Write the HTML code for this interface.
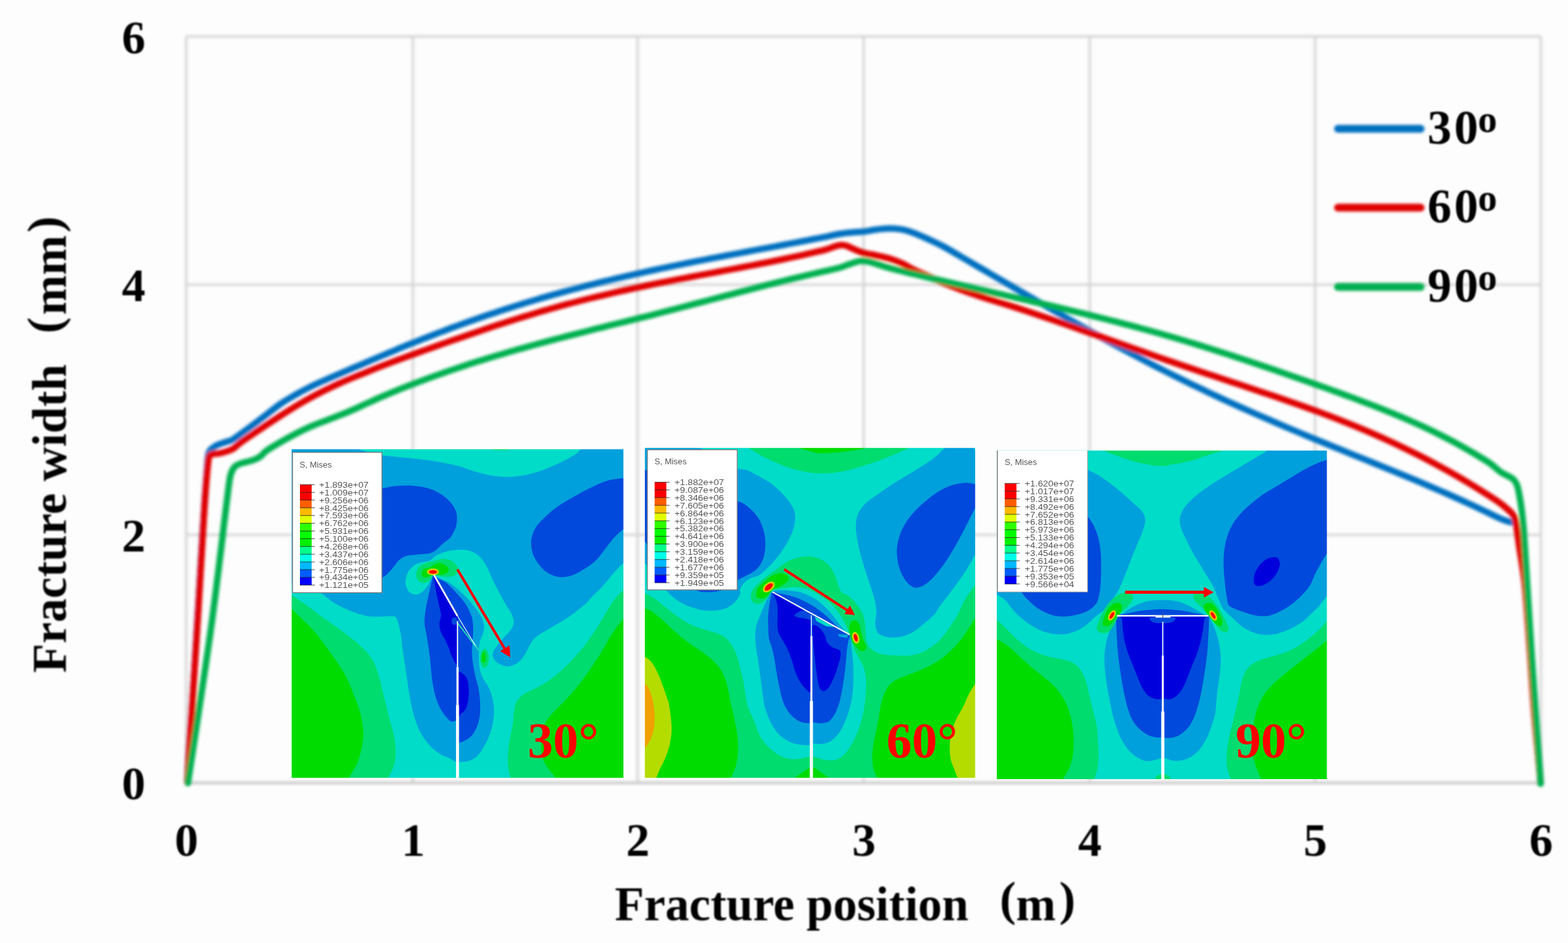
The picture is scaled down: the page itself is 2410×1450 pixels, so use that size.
<!DOCTYPE html>
<html lang="en"><head><meta charset="utf-8"><title>Fracture width vs fracture position</title>
<style>html,body{margin:0;padding:0;background:#fdfdfd;}body{width:2410px;height:1450px;overflow:hidden;}svg{display:block;}.tk{font-family:"Liberation Serif",serif;font-weight:bold;font-size:72.5px;fill:#000;}.pa{font-size:75px;}.ti{font-family:"Liberation Serif",serif;font-weight:bold;font-size:73.5px;fill:#000;}.lg{font-family:"Liberation Serif",serif;font-weight:bold;font-size:74px;fill:#000;}.rl{font-family:"Liberation Serif",serif;font-weight:bold;font-size:78px;fill:#ff0000;}.ab{font-family:"Liberation Sans","DejaVu Sans",sans-serif;font-size:12.9px;fill:#585858;}</style></head><body>
<svg width="2410" height="1450" viewBox="0 0 2410 1450">
<defs><filter id="bl" x="-5%" y="-5%" width="110%" height="110%"><feGaussianBlur stdDeviation="1.7"/></filter><filter id="bl2" x="-5%" y="-5%" width="110%" height="110%"><feGaussianBlur stdDeviation="0.8"/></filter><filter id="blC" filterUnits="userSpaceOnUse" x="250" y="300" width="2160" height="950"><feGaussianBlur stdDeviation="2.0"/></filter><filter id="blG" filterUnits="userSpaceOnUse" x="250" y="20" width="2160" height="1230"><feGaussianBlur stdDeviation="2.0"/></filter><filter id="blT" filterUnits="userSpaceOnUse" x="0" y="0" width="2410" height="1450"><feGaussianBlur stdDeviation="1.2"/></filter><filter id="bl3" filterUnits="userSpaceOnUse" x="400" y="650" width="1700" height="600"><feGaussianBlur stdDeviation="0.75"/></filter><filter id="bl4" filterUnits="userSpaceOnUse" x="400" y="650" width="1700" height="600"><feGaussianBlur stdDeviation="0.45"/></filter><filter id="blL" filterUnits="userSpaceOnUse" x="2000" y="150" width="250" height="350"><feGaussianBlur stdDeviation="1.9"/></filter></defs>
<rect x="0" y="0" width="2410" height="1450" fill="#fdfdfd"/>
<g id="grid" filter="url(#blG)" stroke="#d6d6d6" stroke-width="3.8" fill="none">
<line x1="286.2" y1="56.0" x2="286.2" y2="1203.0"/>
<line x1="634.6" y1="56.0" x2="634.6" y2="1203.0"/>
<line x1="980.0" y1="56.0" x2="980.0" y2="1203.0"/>
<line x1="1327.4" y1="56.0" x2="1327.4" y2="1203.0"/>
<line x1="1674.7" y1="56.0" x2="1674.7" y2="1203.0"/>
<line x1="2021.3" y1="56.0" x2="2021.3" y2="1203.0"/>
<line x1="2368.3" y1="56.0" x2="2368.3" y2="1203.0"/>
<line x1="286.2" y1="56.0" x2="2368.3" y2="56.0"/>
<line x1="286.2" y1="437.6" x2="2368.3" y2="437.6"/>
<line x1="286.2" y1="822.3" x2="2368.3" y2="822.3"/>
<line x1="286.2" y1="1203.8" x2="2368.3" y2="1203.8" stroke="#cbcbcb" stroke-width="4.4"/>
</g>
<g id="curves" filter="url(#blC)" fill="none" stroke-width="10" stroke-linecap="round" stroke-linejoin="round">
<path stroke="#0070c0" d="M288.0,1203.0C290.0,1170.8 296.0,1075.5 300.0,1010.0C304.0,944.5 308.9,859.2 312.0,810.0C315.1,760.8 317.0,734.0 318.5,715.0C320.0,696.0 319.8,700.2 321.0,696.0C322.2,691.8 323.8,691.4 326.0,689.5C328.2,687.6 330.5,686.0 334.0,684.4C337.5,682.8 343.3,681.0 347.0,679.7C350.7,678.5 352.8,678.5 356.0,676.9C359.2,675.3 360.7,673.9 366.0,670.1C371.3,666.3 380.7,659.6 388.0,654.1C395.3,648.6 402.7,642.8 410.0,637.2C417.3,631.6 424.7,625.5 432.0,620.5C439.3,615.5 446.7,611.4 454.0,607.2C461.3,603.0 468.7,599.1 476.0,595.4C483.3,591.7 490.7,588.5 498.0,585.2C505.3,581.9 512.7,578.8 520.0,575.6C527.3,572.4 534.7,569.3 542.0,566.2C549.3,563.1 556.7,560.0 564.0,556.9C571.3,553.8 578.7,550.6 586.0,547.5C593.3,544.4 600.7,541.3 608.0,538.3C615.3,535.2 622.7,532.2 630.0,529.2C637.3,526.2 644.7,523.3 652.0,520.4C659.3,517.5 666.7,514.7 674.0,511.9C681.3,509.1 688.7,506.2 696.0,503.5C703.3,500.8 710.7,498.1 718.0,495.5C725.3,492.9 732.7,490.3 740.0,487.8C747.3,485.3 754.7,482.8 762.0,480.4C769.3,478.0 776.7,475.5 784.0,473.2C791.3,470.9 798.7,468.6 806.0,466.3C813.3,464.1 820.7,461.9 828.0,459.7C835.3,457.5 842.7,455.5 850.0,453.4C857.3,451.3 864.7,449.3 872.0,447.3C879.3,445.3 886.7,443.4 894.0,441.5C901.3,439.6 908.7,437.6 916.0,435.8C923.3,434.0 930.7,432.2 938.0,430.5C945.3,428.8 952.7,427.0 960.0,425.3C967.3,423.6 974.7,421.9 982.0,420.3C989.3,418.7 996.7,417.1 1004.0,415.5C1011.3,413.9 1018.7,412.3 1026.0,410.8C1033.3,409.3 1040.7,407.8 1048.0,406.3C1055.3,404.8 1062.7,403.3 1070.0,401.9C1077.3,400.5 1084.7,399.1 1092.0,397.7C1099.3,396.3 1106.7,394.9 1114.0,393.5C1121.3,392.1 1128.7,390.7 1136.0,389.3C1143.3,387.9 1150.7,386.6 1158.0,385.2C1165.3,383.8 1172.7,382.5 1180.0,381.1C1187.3,379.7 1194.7,378.4 1202.0,377.0C1209.3,375.6 1216.7,374.3 1224.0,372.9C1231.3,371.5 1238.7,370.0 1246.0,368.6C1253.3,367.2 1260.7,365.8 1268.0,364.3C1275.3,362.8 1283.0,361.0 1290.0,359.8C1297.0,358.6 1303.8,358.0 1310.0,357.4C1316.2,356.8 1321.6,356.8 1327.4,356.1C1333.2,355.4 1339.2,354.1 1345.0,353.3C1350.8,352.5 1356.5,351.8 1362.0,351.5C1367.5,351.2 1373.2,351.3 1378.2,351.7C1383.2,352.1 1387.0,352.8 1392.0,354.1C1397.0,355.4 1402.0,357.3 1408.0,359.7C1414.0,362.1 1421.0,365.2 1428.0,368.4C1435.0,371.6 1442.2,374.8 1450.0,379.0C1457.8,383.2 1466.7,388.6 1475.0,393.5C1483.3,398.4 1491.7,403.2 1500.0,408.1C1508.3,413.0 1516.7,417.8 1525.0,422.7C1533.3,427.6 1541.7,432.4 1550.0,437.3C1558.3,442.2 1566.7,447.0 1575.0,451.8C1583.3,456.6 1591.7,461.5 1600.0,466.3C1608.3,471.1 1616.7,475.9 1625.0,480.7C1633.3,485.5 1641.7,490.2 1650.0,494.9C1658.3,499.6 1666.7,504.4 1675.0,509.0C1683.3,513.6 1691.7,518.2 1700.0,522.8C1708.3,527.4 1716.7,531.9 1725.0,536.4C1733.3,540.9 1741.7,545.3 1750.0,549.7C1758.3,554.1 1766.7,558.4 1775.0,562.7C1783.3,567.0 1791.7,571.2 1800.0,575.4C1808.3,579.6 1816.7,583.7 1825.0,587.8C1833.3,591.9 1841.7,595.8 1850.0,599.8C1858.3,603.8 1866.7,607.7 1875.0,611.6C1883.3,615.5 1891.7,619.3 1900.0,623.1C1908.3,626.9 1916.7,630.6 1925.0,634.3C1933.3,638.0 1941.7,641.6 1950.0,645.2C1958.3,648.8 1966.7,652.5 1975.0,656.0C1983.3,659.5 1991.7,663.0 2000.0,666.5C2008.3,670.0 2016.7,673.5 2025.0,676.9C2033.3,680.3 2041.7,683.7 2050.0,687.1C2058.3,690.5 2066.7,693.9 2075.0,697.3C2083.3,700.7 2091.7,704.0 2100.0,707.4C2108.3,710.8 2116.7,714.2 2125.0,717.6C2133.3,721.0 2141.7,724.4 2150.0,727.8C2158.3,731.2 2166.7,734.7 2175.0,738.2C2183.3,741.7 2191.7,745.2 2200.0,748.8C2208.3,752.4 2216.7,756.0 2225.0,759.7C2233.3,763.4 2241.7,767.1 2250.0,770.9C2258.3,774.7 2266.7,778.5 2275.0,782.5C2283.3,786.5 2293.5,791.7 2300.0,794.7C2306.5,797.7 2309.8,799.0 2314.0,800.5C2318.2,802.0 2323.5,803.0 2325.4,803.5"/>
<path stroke="#e00000" d="M288.0,1203.0C290.8,1158.9 300.3,1009.1 304.7,938.6C309.1,868.1 311.7,817.8 314.2,780.0C316.7,742.2 318.3,725.3 319.8,712.0C321.3,698.7 321.6,702.3 323.0,700.0C324.4,697.7 325.5,698.5 328.0,698.0C330.5,697.5 334.1,697.6 338.0,696.8C341.9,696.0 347.6,694.4 351.3,693.1C355.0,691.8 357.2,690.7 360.0,688.8C362.8,686.9 363.0,685.6 368.0,681.9C373.0,678.2 382.7,671.6 390.0,666.6C397.3,661.6 404.7,656.8 412.0,651.9C419.3,647.0 426.7,642.2 434.0,637.5C441.3,632.8 448.7,628.1 456.0,623.7C463.3,619.3 470.7,615.1 478.0,611.1C485.3,607.1 492.7,603.3 500.0,599.7C507.3,596.1 514.7,592.7 522.0,589.4C529.3,586.1 536.7,583.0 544.0,580.0C551.3,577.0 558.7,574.1 566.0,571.1C573.3,568.1 580.7,565.1 588.0,562.3C595.3,559.4 602.7,556.7 610.0,554.0C617.3,551.3 624.7,548.6 632.0,546.0C639.3,543.4 646.7,540.7 654.0,538.1C661.3,535.5 668.7,532.9 676.0,530.3C683.3,527.7 690.7,525.1 698.0,522.5C705.3,519.9 712.7,517.4 720.0,514.9C727.3,512.4 734.7,509.9 742.0,507.4C749.3,504.9 756.7,502.5 764.0,500.1C771.3,497.7 778.7,495.2 786.0,492.9C793.3,490.6 800.7,488.3 808.0,486.1C815.3,483.9 822.7,481.6 830.0,479.5C837.3,477.4 844.7,475.2 852.0,473.2C859.3,471.1 866.7,469.1 874.0,467.2C881.3,465.2 888.7,463.4 896.0,461.5C903.3,459.6 910.7,457.9 918.0,456.1C925.3,454.4 932.7,452.7 940.0,451.0C947.3,449.3 954.7,447.6 962.0,446.0C969.3,444.4 976.7,442.9 984.0,441.3C991.3,439.8 998.7,438.2 1006.0,436.7C1013.3,435.2 1020.7,433.7 1028.0,432.3C1035.3,430.9 1042.7,429.5 1050.0,428.1C1057.3,426.7 1064.7,425.3 1072.0,423.9C1079.3,422.5 1086.7,421.2 1094.0,419.8C1101.3,418.4 1108.7,417.1 1116.0,415.7C1123.3,414.3 1130.7,412.9 1138.0,411.5C1145.3,410.1 1152.7,408.7 1160.0,407.3C1167.3,405.9 1174.7,404.5 1182.0,403.0C1189.3,401.5 1196.7,400.0 1204.0,398.5C1211.3,397.0 1218.7,395.4 1226.0,393.8C1233.3,392.2 1240.7,390.6 1248.0,388.9C1255.3,387.2 1264.0,385.3 1270.0,383.6C1276.0,381.9 1280.1,379.7 1284.0,378.6C1287.9,377.5 1290.4,376.9 1293.2,376.8C1296.0,376.7 1297.9,377.1 1301.0,378.1C1304.1,379.1 1307.8,381.1 1312.0,382.9C1316.2,384.6 1320.8,387.0 1326.3,388.6C1331.8,390.2 1338.1,391.0 1345.0,392.5C1351.9,394.0 1361.0,395.8 1367.8,397.8C1374.6,399.9 1379.8,401.9 1386.0,404.8C1392.2,407.7 1397.7,411.4 1405.0,415.0C1412.3,418.6 1421.7,422.5 1430.0,426.1C1438.3,429.7 1446.7,433.4 1455.0,436.8C1463.3,440.2 1471.7,443.4 1480.0,446.5C1488.3,449.6 1496.7,452.4 1505.0,455.2C1513.3,458.0 1521.7,460.6 1530.0,463.2C1538.3,465.8 1546.7,468.3 1555.0,470.9C1563.3,473.5 1571.7,476.2 1580.0,479.0C1588.3,481.8 1596.7,484.6 1605.0,487.4C1613.3,490.2 1621.7,493.1 1630.0,496.0C1638.3,498.9 1646.7,501.9 1655.0,504.8C1663.3,507.7 1671.7,510.7 1680.0,513.6C1688.3,516.6 1696.7,519.5 1705.0,522.5C1713.3,525.5 1721.7,528.5 1730.0,531.5C1738.3,534.5 1746.7,537.4 1755.0,540.3C1763.3,543.2 1771.7,546.2 1780.0,549.1C1788.3,552.0 1796.7,554.9 1805.0,557.8C1813.3,560.7 1821.7,563.5 1830.0,566.3C1838.3,569.1 1846.7,571.9 1855.0,574.7C1863.3,577.5 1871.7,580.2 1880.0,583.0C1888.3,585.8 1896.7,588.5 1905.0,591.3C1913.3,594.1 1921.7,596.9 1930.0,599.7C1938.3,602.5 1946.7,605.3 1955.0,608.1C1963.3,610.9 1971.7,613.8 1980.0,616.7C1988.3,619.6 1996.7,622.5 2005.0,625.5C2013.3,628.5 2021.7,631.5 2030.0,634.6C2038.3,637.7 2046.7,640.9 2055.0,644.1C2063.3,647.4 2071.7,650.7 2080.0,654.1C2088.3,657.5 2096.7,661.0 2105.0,664.6C2113.3,668.2 2121.7,671.9 2130.0,675.7C2138.3,679.5 2146.7,683.4 2155.0,687.4C2163.3,691.4 2171.7,695.5 2180.0,699.7C2188.3,703.9 2196.7,708.3 2205.0,712.8C2213.3,717.3 2221.7,721.9 2230.0,726.6C2238.3,731.3 2246.7,736.2 2255.0,741.2C2263.3,746.2 2271.7,751.4 2280.0,756.7C2288.3,762.0 2298.0,768.0 2305.0,773.1C2312.0,778.2 2318.2,783.9 2322.0,787.5C2325.8,791.1 2326.1,791.6 2327.5,795.0C2328.9,798.4 2329.2,800.5 2330.5,808.0C2331.8,815.5 2332.8,824.7 2335.0,840.0C2337.2,855.3 2341.1,873.3 2343.8,900.0C2346.5,926.7 2349.0,966.7 2351.4,1000.0C2353.8,1033.3 2355.6,1066.0 2358.4,1100.0C2361.2,1134.0 2366.4,1186.7 2368.0,1204.0"/>
<path stroke="#00b050" d="M288.8,1204.0C294.6,1165.1 313.9,1041.1 323.7,970.4C333.5,899.7 342.6,818.9 347.5,780.0C352.4,741.1 351.5,746.2 353.0,737.0C354.5,727.8 355.2,727.9 356.5,724.6C357.8,721.4 358.8,719.5 361.0,717.5C363.2,715.5 365.4,714.2 370.0,712.6C374.6,711.0 383.6,709.4 388.6,707.6C393.6,705.9 396.4,704.6 400.0,702.1C403.6,699.6 404.7,696.5 410.0,692.7C415.3,688.9 424.7,683.6 432.0,679.4C439.3,675.1 446.7,671.0 454.0,667.2C461.3,663.4 468.7,659.8 476.0,656.6C483.3,653.4 490.7,650.7 498.0,647.8C505.3,644.9 512.7,642.2 520.0,639.3C527.3,636.4 534.7,633.5 542.0,630.3C549.3,627.1 556.7,623.6 564.0,620.3C571.3,617.0 578.7,613.6 586.0,610.4C593.3,607.2 600.7,604.1 608.0,601.1C615.3,598.1 622.7,595.2 630.0,592.4C637.3,589.6 644.7,586.8 652.0,584.1C659.3,581.4 666.7,578.7 674.0,576.1C681.3,573.5 688.7,570.9 696.0,568.4C703.3,565.9 710.7,563.4 718.0,561.0C725.3,558.6 732.7,556.3 740.0,554.0C747.3,551.7 754.7,549.5 762.0,547.3C769.3,545.1 776.7,542.9 784.0,540.8C791.3,538.7 798.7,536.6 806.0,534.6C813.3,532.6 820.7,530.5 828.0,528.5C835.3,526.5 842.7,524.5 850.0,522.6C857.3,520.7 864.7,518.8 872.0,516.9C879.3,515.0 886.7,513.2 894.0,511.3C901.3,509.4 908.7,507.6 916.0,505.7C923.3,503.8 930.7,502.0 938.0,500.2C945.3,498.4 952.7,496.6 960.0,494.8C967.3,493.0 974.7,491.1 982.0,489.3C989.3,487.5 996.7,485.7 1004.0,483.8C1011.3,481.9 1018.7,480.1 1026.0,478.2C1033.3,476.3 1040.7,474.4 1048.0,472.5C1055.3,470.6 1062.7,468.6 1070.0,466.7C1077.3,464.8 1084.7,462.9 1092.0,461.0C1099.3,459.1 1106.7,457.1 1114.0,455.2C1121.3,453.3 1128.7,451.3 1136.0,449.4C1143.3,447.5 1150.7,445.6 1158.0,443.7C1165.3,441.8 1172.7,439.9 1180.0,438.0C1187.3,436.1 1194.7,434.3 1202.0,432.5C1209.3,430.7 1216.7,428.9 1224.0,427.2C1231.3,425.4 1238.7,423.7 1246.0,422.0C1253.3,420.3 1260.7,418.6 1268.0,416.9C1275.3,415.2 1284.0,413.4 1290.0,411.7C1296.0,410.0 1299.7,408.3 1304.0,406.8C1308.3,405.3 1312.7,403.6 1316.0,402.7C1319.3,401.8 1321.3,401.4 1324.0,401.3C1326.7,401.2 1328.5,401.2 1332.0,401.8C1335.5,402.4 1339.5,403.5 1345.0,405.1C1350.5,406.7 1357.5,409.4 1365.0,411.5C1372.5,413.6 1381.7,415.8 1390.0,417.8C1398.3,419.9 1406.7,421.8 1415.0,423.8C1423.3,425.8 1431.7,427.8 1440.0,429.8C1448.3,431.8 1456.7,433.7 1465.0,435.6C1473.3,437.5 1481.7,439.5 1490.0,441.4C1498.3,443.3 1506.7,445.3 1515.0,447.2C1523.3,449.1 1531.7,451.0 1540.0,452.9C1548.3,454.8 1556.7,456.7 1565.0,458.6C1573.3,460.5 1581.7,462.5 1590.0,464.4C1598.3,466.3 1606.7,468.2 1615.0,470.2C1623.3,472.1 1631.7,474.1 1640.0,476.1C1648.3,478.1 1656.7,480.2 1665.0,482.2C1673.3,484.2 1681.7,486.2 1690.0,488.3C1698.3,490.4 1706.7,492.6 1715.0,494.7C1723.3,496.8 1731.7,499.0 1740.0,501.2C1748.3,503.4 1756.7,505.7 1765.0,508.0C1773.3,510.3 1781.7,512.6 1790.0,515.0C1798.3,517.4 1806.7,519.8 1815.0,522.3C1823.3,524.8 1831.7,527.3 1840.0,529.9C1848.3,532.5 1856.7,535.1 1865.0,537.7C1873.3,540.4 1881.7,543.1 1890.0,545.8C1898.3,548.5 1906.7,551.2 1915.0,554.0C1923.3,556.8 1931.7,559.7 1940.0,562.5C1948.3,565.3 1956.7,568.1 1965.0,571.0C1973.3,573.9 1981.7,576.8 1990.0,579.7C1998.3,582.6 2006.7,585.5 2015.0,588.5C2023.3,591.5 2031.7,594.4 2040.0,597.4C2048.3,600.4 2056.7,603.4 2065.0,606.5C2073.3,609.6 2081.7,612.6 2090.0,615.8C2098.3,618.9 2106.7,622.1 2115.0,625.4C2123.3,628.7 2131.7,632.0 2140.0,635.4C2148.3,638.8 2156.7,642.4 2165.0,646.0C2173.3,649.6 2181.7,653.4 2190.0,657.3C2198.3,661.2 2206.7,665.3 2215.0,669.5C2223.3,673.7 2231.7,678.0 2240.0,682.6C2248.3,687.2 2256.7,691.9 2265.0,696.9C2273.3,701.9 2283.2,707.6 2290.0,712.4C2296.8,717.2 2301.5,722.3 2306.0,725.5C2310.5,728.7 2313.7,729.6 2317.0,731.5C2320.3,733.4 2323.6,734.7 2326.0,737.0C2328.4,739.3 2330.0,741.7 2331.5,745.5C2333.0,749.3 2333.8,753.8 2335.0,760.0C2336.2,766.2 2337.4,773.3 2338.6,782.6C2339.8,791.9 2341.2,806.2 2342.0,815.8C2342.8,825.4 2341.4,806.0 2343.6,840.0C2345.8,874.0 2350.9,959.2 2355.0,1020.0C2359.1,1080.8 2365.8,1174.1 2368.0,1204.9"/>
</g>
<g id="imgs">
<clipPath id="c1"><rect x="448.3" y="690.8" width="509.9" height="505.2"/></clipPath>
<g clip-path="url(#c1)" filter="url(#bl3)">
<rect x="443.3" y="685.8" width="519.9" height="515.2" fill="#00a0dc"/>
<path fill="#00dcc8" d="M540.0,680.0C511.9,685.1 546.6,688.2 551.7,690.8C556.8,693.4 564.5,694.2 570.4,695.8C576.3,697.3 580.9,699.0 587.1,700.1C593.3,701.2 599.5,701.5 607.6,702.3C615.7,703.1 626.2,704.1 635.5,705.1C644.8,706.1 654.2,707.1 663.5,708.5C672.8,709.9 683.6,711.9 691.4,713.5C699.1,715.1 704.9,716.5 710.0,718.0C715.1,719.5 714.6,720.3 722.0,722.5C729.4,724.7 743.3,729.2 754.5,731.0C765.7,732.8 777.5,733.7 789.0,733.0C800.5,732.3 811.9,730.0 823.4,726.6C834.9,723.2 847.8,717.4 857.9,712.8C868.0,708.2 878.0,702.7 883.8,699.0C889.5,695.3 889.7,693.9 892.4,690.7C895.1,687.5 928.7,685.1 900.0,680.0C871.3,674.9 780.0,660.0 720.0,660.0C660.0,660.0 568.0,674.9 540.0,680.0Z"/>
<ellipse cx="769" cy="690" rx="17" ry="2.5" fill="#00dc6e"/>
<path fill="#00dcc8" d="M958.3,866.2C953.1,869.5 949.3,874.2 944.1,880.0C938.9,885.8 932.6,894.4 926.9,900.7C921.2,907.0 914.5,913.0 909.7,917.9C904.9,922.8 904.3,924.8 898.2,930.0C892.1,935.2 882.1,943.2 873.1,949.3C864.1,955.4 851.6,962.2 844.1,966.7C836.6,971.2 832.7,973.0 828.4,976.0C824.1,979.0 821.2,981.6 818.5,985.0C815.8,988.4 814.1,992.5 811.9,996.5C809.7,1000.5 807.7,1005.2 805.2,1008.8C802.7,1012.4 800.0,1015.8 797.0,1018.2C794.0,1020.6 790.3,1022.4 787.0,1023.4C783.7,1024.5 780.4,1025.0 777.1,1024.5C773.8,1024.0 770.0,1022.1 767.2,1020.6C764.4,1019.1 762.1,1017.4 760.5,1015.4C758.9,1013.4 757.7,1011.3 757.4,1008.8C757.1,1006.3 757.3,1003.8 758.9,1000.5C760.5,997.2 764.5,992.5 767.2,988.9C770.0,985.3 772.9,981.8 775.4,979.0C777.9,976.2 780.0,974.8 782.1,972.3C784.2,969.8 786.7,967.1 787.9,964.1C789.1,961.1 789.9,957.7 789.5,954.1C789.1,950.5 787.8,947.2 785.4,942.5C783.0,937.8 778.7,931.8 775.4,926.0C772.1,920.2 768.8,914.1 765.5,907.8C762.2,901.4 758.4,893.7 755.6,887.9C752.9,882.1 751.5,877.7 749.0,873.0C746.5,868.3 744.0,863.6 740.7,859.8C737.4,855.9 733.2,852.2 729.1,849.9C725.0,847.5 720.9,846.4 715.9,845.7C710.9,845.0 704.8,845.2 699.3,845.7C693.8,846.2 687.8,847.5 682.8,849.0C677.8,850.5 673.1,852.7 669.5,854.8C665.9,856.9 664.0,860.3 661.2,861.8C658.5,863.3 656.6,863.0 653.0,863.9C649.4,864.8 643.9,864.9 639.7,867.2C635.6,869.6 630.9,873.7 628.1,878.0C625.4,882.3 623.8,888.8 623.2,892.9C622.7,897.0 623.7,899.8 624.8,902.8C625.9,905.8 627.3,909.2 629.8,911.1C632.3,913.0 636.4,914.7 639.7,914.4C643.0,914.1 646.7,911.9 649.7,909.4C652.7,906.9 655.4,903.4 657.9,899.5C660.4,895.6 663.1,889.4 664.6,886.3C666.1,883.2 665.6,880.7 667.0,881.0C668.4,881.3 668.8,885.4 672.8,887.9C676.8,890.4 685.2,892.6 691.0,896.2C696.8,899.8 702.6,905.0 707.6,909.4C712.6,913.8 716.7,918.0 720.8,922.7C724.9,927.4 729.1,932.9 732.4,937.6C735.7,942.3 738.8,946.7 740.7,950.8C742.6,954.9 743.7,958.5 744.0,962.4C744.3,966.3 743.4,969.9 742.3,974.0C741.2,978.1 738.4,981.7 737.4,987.2C736.4,992.7 736.1,1000.7 736.0,1007.2C735.9,1013.8 736.0,1020.7 737.0,1026.5C738.0,1032.3 739.4,1036.8 741.8,1042.0C744.2,1047.2 748.8,1051.9 751.4,1057.4C754.0,1062.9 755.9,1068.7 757.2,1074.8C758.5,1080.9 759.2,1087.7 759.2,1094.1C759.2,1100.5 758.5,1107.0 757.2,1113.4C755.9,1119.8 753.6,1126.9 751.4,1132.7C749.1,1138.5 746.6,1143.4 743.7,1148.2C740.8,1153.0 737.6,1158.2 734.1,1161.7C730.6,1165.2 726.7,1167.8 722.5,1169.4C718.3,1171.0 712.6,1171.1 709.0,1171.4C705.4,1171.7 704.1,1172.4 700.9,1171.4C697.7,1170.4 693.8,1167.3 690.0,1165.5C686.2,1163.7 682.5,1163.2 677.9,1160.3C673.3,1157.4 667.6,1153.8 662.4,1148.3C657.2,1142.8 651.2,1135.4 646.9,1127.6C642.6,1119.8 639.5,1111.2 636.6,1101.7C633.7,1092.2 631.7,1081.6 629.7,1070.7C627.7,1059.8 626.2,1047.7 624.5,1036.2C622.8,1024.7 620.6,1011.2 619.3,1001.7C618.0,992.2 617.8,986.1 616.6,979.0C615.5,971.9 613.8,964.1 612.4,959.1C611.0,954.1 610.4,951.1 608.3,949.2C606.2,947.3 606.4,947.7 600.0,947.5C593.6,947.3 579.6,949.1 570.0,948.0C560.4,946.9 551.6,944.1 542.4,940.7C533.1,937.3 522.9,932.6 514.5,927.7C506.1,922.8 499.4,915.3 492.0,911.5C484.6,907.7 478.7,906.4 470.0,905.0C461.3,903.6 448.3,887.2 440.0,903.0C431.7,918.8 423.3,947.2 420.0,1000.0C416.7,1052.8 373.3,1181.7 420.0,1220.0C466.7,1258.3 606.7,1230.0 700.0,1230.0C793.3,1230.0 932.5,1258.3 980.0,1220.0C1027.5,1181.7 985.8,1060.0 985.0,1000.0C984.2,940.0 979.5,882.3 975.0,860.0C970.5,837.7 963.4,862.9 958.3,866.2Z"/>
<path fill="#00dc6e" d="M440.0,910.0C443.0,860.0 443.0,911.7 448.0,915.0C453.0,918.3 461.9,924.2 470.0,930.0C478.1,935.8 487.5,943.2 496.9,950.0C506.3,956.8 517.0,963.8 526.2,970.7C535.4,977.6 544.6,984.5 552.1,991.4C559.6,998.3 566.1,1004.6 571.0,1012.1C575.9,1019.6 578.2,1026.4 581.4,1036.2C584.6,1046.0 587.1,1059.2 590.0,1070.7C592.9,1082.2 596.0,1095.2 598.6,1105.2C601.2,1115.2 603.9,1122.4 605.5,1131.0C607.1,1139.6 608.1,1149.1 608.1,1156.9C608.1,1164.7 607.4,1171.1 605.5,1177.6C603.6,1184.1 599.5,1189.8 596.9,1196.0C594.3,1202.2 617.8,1211.8 590.0,1215.0C562.2,1218.2 455.0,1265.8 430.0,1215.0C405.0,1164.2 437.0,960.0 440.0,910.0Z"/>
<path fill="#00dc00" d="M440.0,928.0C443.0,881.5 444.3,932.3 448.0,936.0C451.7,939.7 456.5,944.2 462.4,950.0C468.2,955.8 475.3,961.5 483.1,970.7C490.9,979.9 501.2,994.3 509.0,1005.2C516.8,1016.1 524.0,1025.9 529.7,1036.2C535.4,1046.5 539.4,1057.1 543.4,1067.2C547.4,1077.3 551.3,1087.4 553.8,1096.6C556.2,1105.8 557.5,1114.7 558.1,1122.4C558.7,1130.2 558.5,1135.0 557.2,1143.1C555.9,1151.1 553.7,1161.9 550.3,1170.7C546.9,1179.5 540.0,1188.6 536.6,1196.0C533.2,1203.4 547.8,1211.8 530.0,1215.0C512.2,1218.2 445.0,1262.8 430.0,1215.0C415.0,1167.2 437.0,974.5 440.0,928.0Z"/>
<path fill="#00dc6e" d="M970.0,897.0C966.4,845.8 962.0,904.1 958.3,907.6C954.6,911.1 950.9,914.2 947.6,917.9C944.3,921.6 943.1,923.1 938.7,930.0C934.3,936.9 927.5,949.4 921.4,959.0C915.3,968.6 908.5,979.2 902.0,987.9C895.5,996.6 889.1,1004.0 882.7,1011.1C876.3,1018.2 869.8,1024.6 863.4,1030.4C857.0,1036.2 850.5,1041.4 844.1,1045.9C837.7,1050.4 831.2,1053.9 824.8,1057.4C818.4,1060.9 810.6,1063.5 805.5,1067.1C800.4,1070.6 796.5,1074.2 793.9,1078.7C791.3,1083.2 791.0,1088.3 790.0,1094.1C789.0,1099.9 789.1,1107.0 788.1,1113.4C787.1,1119.8 785.4,1126.3 784.3,1132.7C783.2,1139.1 782.0,1145.5 781.4,1152.0C780.8,1158.5 780.2,1165.6 780.4,1171.4C780.5,1177.2 781.5,1182.7 782.3,1186.8C783.1,1190.9 783.9,1191.2 785.2,1195.9C786.5,1200.6 757.5,1211.8 790.0,1215.0C822.5,1218.2 950.0,1268.0 980.0,1215.0C1010.0,1162.0 973.6,948.2 970.0,897.0Z"/>
<path fill="#00dc00" d="M970.0,935.0C966.3,891.0 962.9,944.6 958.0,951.2C953.1,957.8 946.8,965.1 940.7,974.4C934.6,983.7 927.9,996.9 921.4,1007.2C914.9,1017.5 908.5,1027.2 902.0,1036.2C895.5,1045.2 889.1,1053.6 882.7,1061.3C876.3,1069.0 869.2,1076.4 863.4,1082.5C857.6,1088.6 852.2,1093.2 848.0,1098.0C843.8,1102.8 840.9,1105.7 838.3,1111.5C835.7,1117.3 833.6,1126.0 832.5,1132.7C831.4,1139.5 831.3,1146.2 831.6,1152.0C831.9,1157.8 832.7,1162.7 834.5,1167.5C836.3,1172.3 839.0,1176.3 842.2,1181.0C845.4,1185.7 850.0,1190.2 853.8,1195.9C857.6,1201.6 844.0,1211.8 865.0,1215.0C886.0,1218.2 962.5,1261.7 980.0,1215.0C997.5,1168.3 973.7,979.0 970.0,935.0Z"/>
<path fill="#0048dc" d="M560.0,755.0C567.9,741.8 579.2,752.1 587.1,750.8C595.0,749.5 599.5,748.0 607.6,747.4C615.7,746.8 626.2,746.1 635.5,747.0C644.8,747.9 654.8,749.2 663.5,752.6C672.2,756.0 681.5,761.9 687.7,767.5C693.9,773.1 698.4,779.6 700.7,786.1C703.0,792.6 702.8,800.1 701.6,806.6C700.4,813.1 696.2,820.9 693.3,825.3C690.4,829.7 687.0,830.8 684.4,833.0C681.8,835.2 680.0,836.6 677.8,838.6C675.6,840.6 674.0,842.9 671.2,844.9C668.4,846.9 666.2,849.2 661.2,850.5C656.2,851.8 647.5,852.1 641.4,852.8C635.3,853.5 629.5,853.4 624.8,854.8C620.1,856.2 616.5,858.6 613.2,861.4C609.9,864.2 607.5,868.4 605.0,871.4C602.5,874.4 601.3,876.4 598.3,879.3C595.3,882.2 593.5,885.1 587.1,888.6C580.7,892.1 567.9,909.8 560.0,900.0C552.1,890.2 540.0,854.2 540.0,830.0C540.0,805.8 552.1,768.2 560.0,755.0Z"/>
<path fill="#0048dc" d="M975.0,734.0C972.2,723.2 964.9,734.4 958.3,735.2C951.7,736.0 943.6,736.3 935.5,738.6C927.4,740.9 918.3,745.0 909.7,749.0C901.1,753.0 892.4,757.9 883.8,762.8C875.2,767.7 865.7,772.8 857.9,778.3C850.1,783.8 843.0,790.0 837.2,795.5C831.5,801.0 826.8,805.2 823.4,811.0C820.0,816.8 817.5,823.7 816.6,830.0C815.8,836.3 816.6,843.0 818.3,849.0C820.0,855.0 823.2,861.0 826.9,866.2C830.6,871.4 835.5,876.5 840.7,880.0C845.9,883.5 852.1,885.9 857.9,886.9C863.6,887.9 869.5,887.4 875.2,886.0C881.0,884.6 885.8,882.2 892.4,878.3C899.0,874.4 908.5,868.5 914.8,862.8C921.1,857.0 925.4,849.8 930.3,843.8C935.2,837.8 939.4,831.6 944.1,826.6C948.8,821.6 953.1,818.0 958.3,813.6C963.4,809.2 972.2,813.3 975.0,800.0C977.8,786.7 977.8,744.8 975.0,734.0Z"/>
<path fill="#0048dc" d="M666.5,881.0C665.5,880.5 666.3,880.7 665.4,884.6C664.5,888.5 662.7,897.6 661.2,904.5C659.7,911.4 657.7,919.1 656.3,926.0C654.9,932.9 653.6,940.2 653.0,945.9C652.4,951.6 652.2,955.0 652.6,960.0C653.0,965.0 654.1,967.5 655.5,975.9C656.9,984.3 659.3,998.8 660.7,1010.3C662.1,1021.8 662.7,1034.7 664.1,1044.8C665.5,1054.9 667.0,1062.9 669.3,1070.7C671.6,1078.5 674.4,1085.4 677.9,1091.4C681.4,1097.4 687.1,1103.9 690.0,1106.9C692.9,1109.9 693.3,1109.0 695.4,1109.6C697.5,1110.2 701.2,1105.5 702.5,1110.5C703.8,1115.5 701.2,1134.8 703.2,1139.5C705.2,1144.2 711.1,1140.0 714.8,1138.5C718.5,1137.0 722.3,1134.3 725.4,1130.8C728.5,1127.3 731.1,1122.4 733.1,1117.3C735.1,1112.2 736.7,1106.0 737.5,1099.9C738.3,1093.8 738.1,1087.0 737.9,1080.6C737.6,1074.2 737.1,1067.7 736.0,1061.3C734.9,1054.9 732.7,1048.4 731.2,1042.0C729.8,1035.6 728.3,1029.1 727.3,1022.7C726.3,1016.3 725.6,1009.2 725.4,1003.4C725.2,997.6 726.0,993.7 726.3,987.9C726.6,982.1 727.3,974.1 727.3,968.6C727.3,963.1 727.0,958.8 726.5,955.0C726.0,951.2 725.9,950.2 724.1,945.9C722.3,941.6 719.5,934.8 715.9,929.3C712.3,923.8 707.6,918.3 702.6,912.8C697.6,907.3 691.3,900.4 686.1,896.2C680.9,892.1 674.5,890.4 671.2,887.9C667.9,885.4 667.5,881.5 666.5,881.0Z"/>
<path fill="#0000dc" d="M667.0,883.0C665.9,883.8 668.2,896.8 669.5,904.5C670.8,912.2 673.1,922.4 674.5,929.3C675.9,936.2 677.7,940.9 677.8,945.9C677.9,950.9 675.3,954.7 675.3,959.1C675.3,963.5 676.3,968.2 677.8,972.3C679.3,976.4 682.5,980.0 684.4,983.9C686.3,987.8 687.8,991.4 689.4,995.5C691.0,999.6 692.1,1004.5 694.3,1008.8C696.5,1013.0 701.1,1024.1 702.5,1021.0C703.9,1017.9 702.8,1000.2 702.8,990.0C702.8,979.8 702.8,967.2 702.8,960.0C702.8,952.8 704.3,951.7 702.8,947.0C701.3,942.3 697.0,937.2 694.0,932.0C691.0,926.8 688.0,921.3 685.0,916.0C682.0,910.7 679.0,905.5 676.0,900.0C673.0,894.5 668.1,882.2 667.0,883.0Z"/>
<ellipse cx="698.5" cy="955" rx="4.5" ry="6" fill="#0048dc"/>
<path fill="#0000dc" d="M703.5,1038.1C705.0,1028.0 710.3,1035.9 712.8,1037.2C715.3,1038.5 717.3,1041.9 718.6,1045.9C719.9,1049.9 720.3,1056.2 720.5,1061.3C720.7,1066.4 720.4,1071.9 719.6,1076.7C718.8,1081.5 717.5,1086.9 715.7,1090.3C713.9,1093.7 711.0,1095.7 709.0,1097.0C707.0,1098.3 704.4,1107.8 703.5,1098.0C702.6,1088.2 702.0,1048.2 703.5,1038.1Z"/>
<path fill="#00dc6e" d="M639.7,884.6C639.7,881.3 640.6,876.2 643.0,873.0C645.5,869.9 650.8,867.2 654.6,865.6C658.5,863.9 662.3,864.1 666.2,863.1C670.1,862.1 673.9,860.2 677.8,859.8C681.7,859.4 685.8,859.5 689.4,860.6C693.0,861.7 696.8,863.8 699.3,866.4C701.8,869.0 704.3,873.3 704.3,876.3C704.3,879.4 701.8,882.8 699.3,884.6C696.8,886.4 693.0,886.8 689.4,887.1C685.8,887.4 681.1,886.7 677.8,886.3C674.5,885.9 671.7,884.6 669.5,884.6C667.3,884.6 666.2,884.9 664.6,886.3C662.9,887.7 661.8,891.2 659.6,892.9C657.4,894.6 654.1,896.2 651.3,896.2C648.6,896.2 645.0,894.8 643.0,892.9C641.1,891.0 639.7,887.9 639.7,884.6Z"/>
<path fill="#00dc00" d="M648.0,881.3C648.4,879.5 649.1,876.2 651.3,874.7C653.5,873.2 658.2,873.4 661.2,872.2C664.3,871.0 666.5,868.2 669.5,867.2C672.6,866.3 676.4,865.7 679.4,866.4C682.5,867.1 686.1,869.4 687.7,871.4C689.4,873.3 690.2,876.1 689.4,878.0C688.6,879.9 685.5,882.0 682.8,883.0C680.0,883.9 675.6,883.8 672.8,883.8C670.1,883.8 668.4,882.6 666.2,883.0C664.0,883.4 661.8,885.4 659.6,886.3C657.4,887.1 654.8,888.1 653.0,887.9C651.2,887.8 649.7,886.6 648.8,885.4C648.0,884.3 647.6,883.1 648.0,881.3Z"/>
<ellipse cx="665.6" cy="879.2" rx="9.2" ry="5.0" fill="#e8e000"/>
<ellipse cx="665.6" cy="879.3" rx="7.6" ry="3.8" fill="#ff9000"/>
<ellipse cx="665.4" cy="879.5" rx="5.8" ry="2.6" fill="#ff0000"/>
<ellipse cx="744.8" cy="1012.3" rx="6.6" ry="14.5" fill="#00dc6e"/>
<ellipse cx="743.5" cy="1011" rx="3.2" ry="8.5" fill="#00dc00"/>
</g><g clip-path="url(#c1)" filter="url(#bl4)">
<path d="M703.2,958 L736,1000" stroke="#20e0b0" stroke-width="2" fill="none"/>
<path d="M667,884 L703,947" stroke="#ffffff" stroke-width="2.6" fill="none"/>
<path d="M703,947 L731,993" stroke="#e8ffff" stroke-width="1.2" fill="none"/>
<path d="M703.2,955 L703.2,1028" stroke="#f0f6ff" stroke-width="2.0" fill="none"/>
<path d="M703.2,1026 L703.2,1086" stroke="#ffffff" stroke-width="3.3" fill="none"/>
<path d="M703.2,1084 L703.2,1197" stroke="#ffffff" stroke-width="4.6" fill="none"/>
<path d="M703,875.5 L776,998" stroke="#ff0000" stroke-width="4" fill="none"/>
<path d="M784.3,1010.4 L768.6,1001.2 L783.2,992.6 Z" fill="#ff0000"/>
<rect x="449.6" y="695.6" width="137.4" height="215.7" fill="#ffffff" stroke="#7a7a7a" stroke-width="1.3"/>
<rect x="461.0" y="745.20" width="18" height="12.08" fill="#ff0000"/>
<rect x="461.0" y="757.08" width="18" height="12.08" fill="#fc0000"/>
<rect x="461.0" y="768.97" width="18" height="12.08" fill="#ff5d00"/>
<rect x="461.0" y="780.85" width="18" height="12.08" fill="#ffb900"/>
<rect x="461.0" y="792.74" width="18" height="12.08" fill="#e0ff00"/>
<rect x="461.0" y="804.62" width="18" height="12.08" fill="#2eff00"/>
<rect x="461.0" y="816.51" width="18" height="12.08" fill="#00ff00"/>
<rect x="461.0" y="828.39" width="18" height="12.08" fill="#00f000"/>
<rect x="461.0" y="840.28" width="18" height="12.08" fill="#00ff8b"/>
<rect x="461.0" y="852.16" width="18" height="12.08" fill="#00ffe8"/>
<rect x="461.0" y="864.05" width="18" height="12.08" fill="#00b9ff"/>
<rect x="461.0" y="875.93" width="18" height="12.08" fill="#005dff"/>
<rect x="461.0" y="887.82" width="18" height="12.08" fill="#0000ff"/>
<path d="M461.0,745.20H484.0M461.0,757.08H484.0M461.0,768.97H484.0M461.0,780.85H484.0M461.0,792.74H484.0M461.0,804.62H484.0M461.0,816.51H484.0M461.0,828.39H484.0M461.0,840.28H484.0M461.0,852.16H484.0M461.0,864.05H484.0M461.0,875.93H484.0M461.0,887.82H484.0M461.0,899.70H484.0" stroke="#222" stroke-width="0.8" fill="none"/>
<text class="ab" x="460.5" y="719.3" font-size="12.6">S, Mises</text>
<text class="ab" x="490.5" y="749.8" textLength="76" lengthAdjust="spacingAndGlyphs">+1.893e+07</text>
<text class="ab" x="490.5" y="761.7" textLength="76" lengthAdjust="spacingAndGlyphs">+1.009e+07</text>
<text class="ab" x="490.5" y="773.6" textLength="76" lengthAdjust="spacingAndGlyphs">+9.256e+06</text>
<text class="ab" x="490.5" y="785.5" textLength="76" lengthAdjust="spacingAndGlyphs">+8.425e+06</text>
<text class="ab" x="490.5" y="797.3" textLength="76" lengthAdjust="spacingAndGlyphs">+7.593e+06</text>
<text class="ab" x="490.5" y="809.2" textLength="76" lengthAdjust="spacingAndGlyphs">+6.762e+06</text>
<text class="ab" x="490.5" y="821.1" textLength="76" lengthAdjust="spacingAndGlyphs">+5.931e+06</text>
<text class="ab" x="490.5" y="833.0" textLength="76" lengthAdjust="spacingAndGlyphs">+5.100e+06</text>
<text class="ab" x="490.5" y="844.9" textLength="76" lengthAdjust="spacingAndGlyphs">+4.268e+06</text>
<text class="ab" x="490.5" y="856.8" textLength="76" lengthAdjust="spacingAndGlyphs">+3.437e+06</text>
<text class="ab" x="490.5" y="868.6" textLength="76" lengthAdjust="spacingAndGlyphs">+2.606e+06</text>
<text class="ab" x="490.5" y="880.5" textLength="76" lengthAdjust="spacingAndGlyphs">+1.775e+06</text>
<text class="ab" x="490.5" y="892.4" textLength="76" lengthAdjust="spacingAndGlyphs">+9.434e+05</text>
<text class="ab" x="490.5" y="904.3" textLength="76" lengthAdjust="spacingAndGlyphs">+1.121e+05</text>
<text class="rl" x="811" y="1164.6">30°</text>
</g>
<clipPath id="c2"><rect x="991.2" y="688.7" width="507.6" height="507.3"/></clipPath>
<g clip-path="url(#c2)" filter="url(#bl3)">
<rect x="986.2" y="683.7" width="517.6" height="517.3" fill="#00dcc8"/>
<path fill="#00dc6e" d="M980.0,908.0C984.4,893.4 986.9,910.4 991.2,912.4C995.5,914.4 1001.0,916.9 1005.7,920.0C1010.4,923.1 1014.9,927.3 1019.5,931.0C1024.1,934.7 1028.7,938.6 1033.3,942.1C1037.9,945.6 1042.5,948.7 1047.1,951.7C1051.7,954.7 1056.3,957.7 1060.9,960.0C1065.5,962.3 1070.1,963.9 1074.7,965.5C1079.3,967.1 1083.8,968.3 1088.4,969.7C1093.0,971.1 1098.1,972.2 1102.2,973.8C1106.3,975.4 1110.1,977.0 1113.3,979.3C1116.5,981.6 1119.1,984.4 1121.6,987.6C1124.1,990.8 1126.3,994.5 1128.4,998.6C1130.5,1002.7 1132.4,1007.3 1134.0,1012.4C1135.6,1017.5 1136.7,1023.5 1138.1,1029.0C1139.5,1034.5 1141.0,1039.8 1142.2,1045.5C1143.4,1051.2 1144.1,1057.7 1145.0,1063.4C1145.9,1069.2 1146.6,1075.1 1147.8,1080.0C1149.0,1084.9 1150.2,1088.4 1152.0,1093.0C1153.8,1097.6 1156.1,1101.1 1158.8,1107.6C1161.5,1114.1 1164.4,1125.0 1168.1,1131.8C1171.8,1138.6 1176.1,1143.5 1181.1,1148.5C1186.1,1153.5 1192.3,1158.5 1197.9,1161.6C1203.5,1164.7 1209.0,1166.4 1214.6,1167.2C1220.2,1168.0 1226.5,1166.8 1231.4,1166.2C1236.3,1165.6 1240.7,1164.0 1244.0,1163.5C1247.3,1163.0 1247.5,1162.7 1251.2,1163.5C1254.9,1164.3 1261.1,1167.2 1266.1,1168.1C1271.1,1169.0 1276.3,1169.8 1281.0,1169.0C1285.7,1168.2 1290.0,1166.6 1294.0,1163.5C1298.0,1160.4 1301.8,1155.4 1305.2,1150.4C1308.6,1145.4 1311.7,1139.6 1314.5,1133.7C1317.3,1127.8 1319.7,1121.8 1321.9,1115.0C1324.1,1108.2 1326.1,1100.2 1327.5,1092.7C1328.9,1085.2 1329.7,1077.8 1330.3,1070.3C1330.9,1062.8 1331.5,1054.8 1331.2,1048.0C1330.9,1041.2 1330.0,1035.0 1328.4,1029.4C1326.9,1023.8 1324.2,1019.2 1321.9,1014.5C1319.6,1009.8 1316.7,1006.1 1314.5,1001.4C1312.3,996.6 1310.5,990.6 1309.0,986.0C1307.5,981.4 1306.6,977.4 1305.5,974.0C1304.4,970.6 1303.9,969.3 1302.2,965.7C1300.5,962.1 1298.3,957.2 1295.6,952.5C1292.8,947.8 1289.6,942.3 1285.7,937.6C1281.8,932.9 1277.4,928.4 1272.4,924.3C1267.4,920.2 1261.4,916.0 1255.9,912.8C1250.4,909.6 1244.8,907.0 1239.3,905.3C1233.8,903.6 1228.3,902.9 1222.8,902.8C1217.3,902.7 1211.7,903.8 1206.2,904.5C1200.7,905.2 1193.3,905.6 1189.7,907.0C1186.1,908.4 1186.6,910.5 1184.7,912.8C1182.8,915.1 1180.6,918.5 1178.1,921.0C1175.6,923.5 1172.8,926.6 1169.8,927.7C1166.8,928.8 1162.5,929.1 1159.9,927.7C1157.3,926.3 1154.6,922.7 1154.1,919.4C1153.5,916.1 1154.8,911.4 1156.6,907.8C1158.4,904.2 1161.2,901.5 1164.8,897.9C1168.4,894.3 1173.1,890.2 1178.1,886.3C1183.1,882.4 1189.1,878.6 1194.6,874.7C1200.1,870.8 1205.7,866.0 1211.2,863.1C1216.7,860.2 1221.9,858.5 1227.7,857.3C1233.5,856.1 1240.1,855.2 1245.9,855.7C1251.7,856.2 1257.5,858.0 1262.5,860.6C1267.5,863.2 1272.1,867.1 1275.7,871.4C1279.3,875.7 1281.8,881.3 1284.0,886.3C1286.2,891.3 1287.3,897.1 1289.0,901.2C1290.7,905.3 1291.4,908.6 1293.9,911.1C1296.4,913.6 1300.3,913.3 1303.9,916.1C1307.5,918.9 1311.8,923.3 1315.4,927.7C1319.0,932.1 1323.1,937.4 1325.4,942.6C1327.8,947.8 1328.7,953.9 1329.5,959.1C1330.3,964.3 1329.8,969.0 1330.3,974.0C1330.8,979.0 1331.4,985.0 1332.8,988.9C1334.2,992.8 1336.0,994.7 1338.6,997.2C1341.2,999.7 1344.6,1002.1 1348.5,1003.8C1352.4,1005.4 1356.5,1006.4 1361.8,1007.1C1367.0,1007.8 1373.9,1007.8 1380.0,1007.9C1386.1,1008.0 1392.1,1008.8 1398.3,1008.0C1404.5,1007.2 1410.7,1005.9 1416.9,1003.3C1423.1,1000.6 1429.9,996.5 1435.5,992.1C1441.1,987.8 1445.7,982.8 1450.4,977.2C1455.1,971.6 1459.9,964.0 1463.5,958.6C1467.1,953.2 1469.5,949.5 1472.0,945.0C1474.5,940.5 1475.7,936.5 1478.3,931.4C1480.9,926.3 1484.3,919.9 1487.7,914.6C1491.1,909.3 1495.1,904.5 1498.8,899.7C1502.5,894.9 1505.6,869.3 1510.0,886.0C1514.4,902.7 1522.5,945.2 1525.0,1000.0C1527.5,1054.8 1571.7,1177.5 1525.0,1215.0C1478.3,1252.5 1338.3,1225.0 1245.0,1225.0C1151.7,1225.0 1011.7,1252.5 965.0,1215.0C918.3,1177.5 962.5,1051.2 965.0,1000.0C967.5,948.8 975.6,922.6 980.0,908.0Z"/>
<path fill="#00dc6e" d="M1140.0,680.0C1120.2,684.8 1146.9,685.6 1151.3,688.8C1155.7,691.9 1160.6,695.4 1166.2,698.6C1171.8,701.8 1177.0,704.5 1184.8,707.9C1192.6,711.3 1203.6,716.1 1212.8,719.1C1222.0,722.1 1230.8,724.5 1240.0,726.0C1249.2,727.5 1258.6,728.0 1267.9,727.8C1277.2,727.6 1286.6,726.5 1295.9,724.7C1305.2,722.9 1314.5,720.0 1323.8,717.2C1333.1,714.4 1342.4,711.3 1351.7,707.9C1361.0,704.5 1372.2,700.0 1379.7,696.8C1387.2,693.6 1392.2,691.5 1396.4,688.8C1400.6,686.0 1426.1,684.8 1405.0,680.0C1383.9,675.2 1314.2,660.0 1270.0,660.0C1225.8,660.0 1159.8,675.2 1140.0,680.0Z"/>
<path fill="#00dc00" d="M1218.0,682.0C1209.3,685.1 1222.4,686.6 1227.7,688.8C1233.0,690.9 1244.8,693.6 1250.0,694.9C1255.2,696.2 1252.5,696.6 1258.6,696.8C1264.7,696.9 1277.3,696.6 1286.6,695.8C1295.9,695.0 1307.1,693.3 1314.5,692.1C1321.9,690.9 1327.0,690.4 1331.2,688.8C1335.5,687.1 1348.5,685.1 1340.0,682.0C1331.5,678.9 1300.3,670.0 1280.0,670.0C1259.7,670.0 1226.7,678.9 1218.0,682.0Z"/>
<path fill="#00dc00" d="M980.0,930.0C984.4,919.2 987.4,933.4 991.2,935.2C995.0,937.0 998.2,937.5 1002.9,940.7C1007.6,943.9 1013.3,949.0 1019.5,954.5C1025.7,960.0 1033.3,967.8 1040.2,973.8C1047.1,979.8 1054.0,985.2 1060.9,990.3C1067.8,995.3 1075.4,999.5 1081.6,1004.1C1087.8,1008.7 1093.5,1013.3 1098.1,1017.9C1102.7,1022.5 1106.1,1026.6 1109.1,1031.7C1112.1,1036.8 1114.2,1042.5 1116.0,1048.3C1117.8,1054.0 1119.0,1060.9 1120.2,1066.2C1121.4,1071.5 1121.8,1074.7 1122.9,1080.0C1124.1,1085.3 1125.5,1090.6 1127.1,1098.3C1128.7,1106.0 1131.5,1116.9 1132.7,1126.2C1134.0,1135.5 1134.9,1145.4 1134.6,1154.1C1134.3,1162.8 1132.7,1171.4 1130.8,1178.4C1128.9,1185.4 1125.5,1190.4 1123.4,1196.0C1121.3,1201.6 1144.4,1208.8 1118.0,1212.0C1091.6,1215.2 990.5,1250.3 965.0,1215.0C939.5,1179.7 962.5,1047.5 965.0,1000.0C967.5,952.5 975.6,940.8 980.0,930.0Z"/>
<path fill="#00dc00" d="M1510.0,935.0C1505.6,926.7 1502.5,944.7 1498.8,950.2C1495.1,955.7 1492.0,961.5 1487.7,967.9C1483.4,974.3 1478.4,981.9 1472.8,988.4C1467.2,994.9 1460.3,1001.7 1454.1,1007.0C1447.9,1012.3 1441.7,1016.4 1435.5,1020.1C1429.3,1023.8 1423.1,1026.6 1416.9,1029.4C1410.7,1032.2 1404.5,1034.3 1398.3,1036.8C1392.1,1039.3 1385.0,1041.5 1379.7,1044.3C1374.4,1047.1 1370.0,1049.9 1366.6,1053.6C1363.2,1057.3 1361.4,1061.3 1359.2,1066.6C1357.0,1071.9 1355.1,1078.4 1353.6,1085.2C1352.0,1092.0 1351.2,1100.8 1349.9,1107.6C1348.7,1114.4 1347.3,1120.0 1346.1,1126.2C1344.8,1132.4 1343.3,1138.6 1342.4,1144.8C1341.5,1151.0 1340.6,1157.3 1340.6,1163.5C1340.6,1169.7 1341.2,1176.7 1342.4,1182.1C1343.6,1187.5 1345.9,1191.0 1348.0,1196.0C1350.1,1201.0 1325.5,1208.8 1355.0,1212.0C1384.5,1215.2 1496.7,1250.3 1525.0,1215.0C1553.3,1179.7 1527.5,1046.7 1525.0,1000.0C1522.5,953.3 1514.4,943.3 1510.0,935.0Z"/>
<path fill="#00dc00" d="M1215.0,1203.0C1210.8,1199.8 1219.1,1198.5 1222.1,1196.0C1225.1,1193.5 1229.5,1190.2 1233.2,1187.7C1236.9,1185.2 1241.0,1182.3 1244.0,1181.1C1247.0,1179.8 1248.2,1179.1 1251.2,1180.2C1254.2,1181.3 1258.6,1185.1 1262.3,1187.7C1266.0,1190.3 1270.2,1193.3 1273.5,1196.0C1276.8,1198.7 1286.4,1200.8 1282.0,1204.0C1277.6,1207.2 1258.2,1215.2 1247.0,1215.0C1235.8,1214.8 1219.2,1206.2 1215.0,1203.0Z"/>
<path fill="#b4dc00" d="M980.0,1004.0C984.4,992.4 988.1,1008.4 991.2,1010.3C994.3,1012.2 996.4,1012.8 998.8,1015.2C1001.2,1017.6 1003.4,1020.9 1005.7,1024.8C1008.0,1028.7 1010.3,1033.3 1012.6,1038.6C1014.9,1043.9 1017.4,1050.8 1019.5,1056.6C1021.6,1062.3 1023.6,1068.9 1025.0,1073.1C1026.4,1077.3 1027.0,1076.9 1028.0,1082.0C1029.0,1087.1 1030.5,1096.5 1031.2,1103.9C1031.9,1111.3 1032.6,1118.8 1032.1,1126.2C1031.6,1133.6 1030.2,1141.4 1028.4,1148.5C1026.6,1155.6 1023.5,1163.1 1021.0,1169.0C1018.5,1174.9 1015.5,1179.4 1013.5,1183.9C1011.5,1188.4 1010.5,1191.3 1008.9,1196.0C1007.3,1200.7 1011.3,1208.8 1004.0,1212.0C996.7,1215.2 971.5,1237.0 965.0,1215.0C958.5,1193.0 962.5,1115.2 965.0,1080.0C967.5,1044.8 975.6,1015.6 980.0,1004.0Z"/>
<path fill="#f0a000" d="M980.0,1040.0C983.5,1031.8 988.5,1048.2 991.2,1051.0C993.9,1053.8 994.5,1054.1 996.0,1056.6C997.5,1059.1 999.0,1062.8 1000.2,1066.2C1001.4,1069.6 1002.3,1071.7 1003.3,1077.0C1004.3,1082.3 1005.8,1091.3 1006.1,1098.3C1006.4,1105.3 1006.0,1112.6 1005.1,1118.8C1004.2,1125.0 1002.4,1130.8 1000.5,1135.5C998.6,1140.2 995.5,1144.4 994.0,1146.7C992.5,1149.0 993.5,1147.6 991.2,1149.5C988.9,1151.4 983.5,1166.2 980.0,1158.0C976.5,1149.8 970.0,1119.7 970.0,1100.0C970.0,1080.3 976.5,1048.2 980.0,1040.0Z"/>
<path fill="#b4dc00" d="M1510.0,1036.0C1505.6,1028.0 1502.2,1046.6 1498.8,1051.7C1495.4,1056.8 1492.6,1060.7 1489.5,1066.6C1486.4,1072.5 1483.6,1080.3 1480.2,1087.1C1476.8,1093.9 1472.1,1100.5 1469.0,1107.6C1465.9,1114.7 1463.1,1122.8 1461.6,1129.9C1460.0,1137.0 1459.7,1143.9 1459.7,1150.4C1459.7,1156.9 1460.3,1163.4 1461.6,1169.0C1462.8,1174.6 1465.5,1179.4 1467.2,1183.9C1468.9,1188.4 1470.0,1191.3 1471.8,1196.0C1473.6,1200.7 1469.1,1208.8 1478.0,1212.0C1486.9,1215.2 1517.2,1233.7 1525.0,1215.0C1532.8,1196.3 1527.5,1129.8 1525.0,1100.0C1522.5,1070.2 1514.4,1044.0 1510.0,1036.0Z"/>
<path fill="#00a0dc" d="M983.7,683.7C1002.0,670.0 1049.8,684.0 1069.4,687.4C1088.9,690.9 1090.4,698.8 1101.0,704.2C1111.7,709.6 1125.5,716.9 1133.2,720.0C1141.0,723.1 1142.1,720.8 1147.6,722.8C1153.1,724.8 1160.0,728.7 1166.2,732.1C1172.4,735.6 1178.6,738.7 1184.8,743.3C1191.0,748.0 1198.2,754.5 1203.4,760.1C1208.7,765.7 1213.4,771.6 1216.5,776.8C1219.6,782.1 1221.4,786.1 1222.1,791.7C1222.7,797.3 1221.8,804.1 1220.2,810.3C1218.7,816.6 1215.9,822.8 1212.8,829.0C1209.7,835.2 1205.6,841.7 1201.6,847.6C1197.6,853.5 1192.9,859.4 1188.6,864.3C1184.2,869.3 1179.2,874.0 1175.5,877.4C1171.8,880.8 1169.6,883.0 1166.2,884.8C1162.8,886.7 1158.8,886.7 1155.0,888.6C1151.3,890.4 1146.8,893.1 1143.9,896.0C1140.9,898.9 1138.3,903.6 1137.3,906.2C1136.4,908.9 1138.7,909.4 1138.1,911.7C1137.5,914.0 1135.8,917.2 1134.0,920.0C1132.2,922.8 1130.1,925.8 1127.1,928.3C1124.1,930.8 1120.2,933.5 1116.0,935.2C1111.8,936.9 1106.8,938.0 1102.2,938.6C1097.6,939.2 1093.0,939.2 1088.4,939.0C1083.8,938.8 1079.3,938.2 1074.7,937.2C1070.1,936.2 1065.5,934.8 1060.9,933.1C1056.3,931.4 1051.7,929.5 1047.1,926.9C1042.5,924.2 1037.2,920.4 1033.3,917.2C1029.4,914.0 1027.5,911.6 1023.6,907.6C1019.7,903.6 1014.3,898.3 1010.0,893.0C1005.7,887.7 1001.1,880.5 998.0,876.0C994.9,871.5 995.0,870.3 991.2,866.0C987.4,861.7 980.2,866.0 975.0,850.0C969.8,834.0 958.5,797.7 960.0,770.0C961.5,742.3 965.5,697.5 983.7,683.7Z"/>
<path fill="#00a0dc" d="M1452.3,688.8C1444.5,695.3 1443.0,698.5 1435.5,704.2C1428.1,709.9 1416.9,716.9 1407.6,722.8C1398.3,728.7 1389.0,733.7 1379.7,739.6C1370.3,745.5 1360.1,752.3 1351.7,758.2C1343.3,764.1 1335.0,769.4 1329.4,775.0C1323.8,780.6 1320.5,785.8 1318.2,791.7C1315.9,797.6 1315.4,803.5 1315.4,810.3C1315.4,817.2 1316.8,824.9 1318.2,832.7C1319.6,840.4 1321.6,848.8 1323.8,856.9C1326.0,865.0 1328.8,873.3 1331.2,881.1C1333.7,888.9 1336.5,896.6 1338.7,903.4C1340.9,910.3 1342.9,915.9 1344.3,922.1C1345.7,928.3 1346.9,934.8 1347.1,940.7C1347.2,946.6 1345.2,952.9 1345.2,957.4C1345.2,961.9 1346.0,964.7 1347.1,967.7C1348.2,970.7 1348.5,973.3 1351.7,975.3C1355.0,977.4 1361.0,979.4 1366.6,980.0C1372.2,980.6 1379.0,980.4 1385.2,979.0C1391.4,977.7 1398.0,975.0 1403.9,971.6C1409.8,968.2 1415.3,962.9 1420.6,958.6C1425.9,954.2 1431.5,950.1 1435.5,945.5C1439.6,941.0 1440.2,937.8 1444.8,931.4C1449.5,925.0 1457.2,915.6 1463.4,907.2C1469.7,898.8 1476.2,890.1 1482.1,881.1C1488.0,872.1 1494.2,860.6 1498.8,853.2C1503.5,845.7 1506.6,852.9 1510.0,836.4C1513.4,820.0 1524.0,783.0 1519.3,754.5C1514.7,725.9 1493.2,676.1 1482.1,665.1C1470.9,654.1 1460.0,682.2 1452.3,688.8Z"/>
<path fill="#00a0dc" d="M1186.5,909.5C1184.3,910.9 1183.8,912.9 1182.0,916.0C1180.2,919.1 1178.3,923.0 1176.0,928.0C1173.7,933.0 1170.6,940.9 1168.4,946.2C1166.2,951.5 1164.2,954.9 1162.9,960.0C1161.7,965.1 1161.0,970.4 1160.9,976.6C1160.8,982.8 1161.4,990.3 1162.2,997.2C1163.0,1004.1 1164.7,1011.0 1165.7,1017.9C1166.7,1024.8 1167.5,1031.7 1168.4,1038.6C1169.3,1045.5 1170.3,1052.4 1171.2,1059.3C1172.1,1066.2 1173.0,1074.4 1174.0,1080.0C1175.0,1085.6 1175.6,1087.8 1177.4,1093.0C1179.2,1098.2 1181.7,1105.5 1184.8,1111.3C1187.9,1117.1 1191.7,1123.4 1196.0,1128.1C1200.3,1132.8 1205.6,1136.4 1210.9,1139.2C1216.2,1142.0 1222.2,1143.7 1227.7,1144.8C1233.2,1145.9 1240.1,1146.0 1244.0,1145.8C1247.9,1145.6 1247.8,1143.8 1251.2,1143.5C1254.6,1143.2 1259.9,1144.6 1264.2,1143.9C1268.5,1143.2 1272.9,1142.2 1277.2,1139.2C1281.5,1136.2 1286.6,1131.5 1290.3,1126.2C1294.0,1120.9 1296.8,1114.4 1299.6,1107.6C1302.4,1100.8 1305.1,1093.0 1307.0,1085.2C1308.9,1077.4 1310.0,1069.1 1310.8,1061.0C1311.6,1052.9 1311.7,1044.5 1311.7,1036.8C1311.7,1029.0 1311.3,1021.3 1310.8,1014.5C1310.3,1007.7 1309.4,1001.6 1308.9,995.9C1308.4,990.1 1308.6,983.4 1308.0,980.0C1307.4,976.6 1306.7,977.0 1305.5,975.7C1304.3,974.4 1302.8,974.5 1300.6,972.3C1298.4,970.1 1295.3,966.2 1292.3,962.4C1289.2,958.5 1286.2,953.9 1282.3,949.2C1278.4,944.5 1274.0,939.0 1269.1,934.3C1264.1,929.6 1258.9,924.9 1252.6,921.0C1246.2,917.1 1238.2,913.3 1231.0,911.1C1223.8,908.9 1215.5,908.3 1209.5,907.8C1203.5,907.2 1198.8,907.5 1195.0,907.8C1191.2,908.1 1188.7,908.1 1186.5,909.5Z"/>
<path fill="#0048dc" d="M980.0,721.0C984.3,713.1 979.3,720.2 991.0,722.5C1002.7,724.8 1031.8,729.6 1050.0,735.0C1068.2,740.4 1086.1,749.1 1100.0,755.0C1113.9,760.9 1125.9,767.0 1133.2,770.3C1140.5,773.6 1140.0,772.4 1143.9,775.0C1147.9,777.6 1152.9,781.8 1156.9,786.1C1160.9,790.4 1165.1,795.4 1168.1,801.0C1171.0,806.6 1173.2,813.5 1174.6,819.7C1176.0,825.9 1176.6,832.1 1176.4,838.3C1176.2,844.5 1175.4,851.3 1173.7,856.9C1172.0,862.5 1169.3,867.8 1166.2,871.8C1163.1,875.8 1158.7,878.6 1155.0,881.1C1151.3,883.6 1147.5,884.8 1143.9,886.7C1140.3,888.6 1137.2,889.8 1133.2,892.3C1129.2,894.8 1124.5,899.3 1120.0,902.0C1115.5,904.7 1111.2,907.1 1106.0,908.5C1100.8,909.9 1094.7,910.5 1089.0,910.5C1083.3,910.5 1078.5,911.1 1072.0,908.5C1065.5,905.9 1058.7,901.4 1050.0,895.0C1041.3,888.6 1028.3,878.3 1020.0,870.0C1011.7,861.7 1005.0,851.3 1000.0,845.0C995.0,838.7 994.2,835.3 990.0,832.0C985.8,828.7 979.2,835.3 975.0,825.0C970.8,814.7 964.2,787.3 965.0,770.0C965.8,752.7 975.7,728.9 980.0,721.0Z"/>
<path fill="#0048dc" d="M1508.1,745.2C1506.6,741.3 1503.2,744.7 1498.8,744.2C1494.5,743.8 1488.0,742.1 1482.1,742.4C1476.2,742.7 1469.7,744.1 1463.4,746.1C1457.2,748.1 1451.0,750.9 1444.8,754.5C1438.6,758.1 1432.4,762.6 1426.2,767.5C1420.0,772.5 1413.2,778.4 1407.6,784.3C1402.0,790.2 1396.7,796.7 1392.7,802.9C1388.7,809.1 1385.7,815.0 1383.4,821.5C1381.1,828.0 1379.3,835.2 1378.7,842.0C1378.1,848.8 1378.6,856.0 1379.7,862.5C1380.7,869.0 1382.8,875.5 1385.2,881.1C1387.7,886.7 1391.1,892.3 1394.6,896.0C1398.0,899.7 1402.0,902.5 1405.7,903.4C1409.4,904.4 1412.9,903.4 1416.9,901.6C1420.9,899.7 1425.3,896.6 1429.9,892.3C1434.6,887.9 1440.2,881.4 1444.8,875.5C1449.5,869.6 1453.8,863.1 1457.9,856.9C1461.9,850.7 1465.3,844.8 1469.0,838.3C1472.8,831.8 1476.8,824.3 1480.2,817.8C1483.6,811.3 1486.4,805.2 1489.5,799.2C1492.6,793.1 1495.7,786.8 1498.8,781.5C1501.9,776.2 1506.6,773.6 1508.1,767.5C1509.7,761.5 1509.7,749.1 1508.1,745.2Z"/>
<path fill="#0048dc" d="M1187.2,910.5C1185.3,911.8 1185.3,916.9 1184.5,920.0C1183.7,923.1 1183.2,924.4 1182.6,929.3C1181.9,934.2 1180.9,943.2 1180.6,949.2C1180.3,955.2 1180.6,959.4 1180.8,965.0C1181.0,970.6 1181.1,977.7 1182.0,982.8C1182.9,987.9 1185.0,990.6 1186.3,995.5C1187.6,1000.4 1188.7,1005.1 1190.0,1012.0C1191.3,1018.9 1192.6,1028.6 1194.1,1036.8C1195.6,1045.0 1196.9,1053.2 1198.8,1061.0C1200.7,1068.8 1202.3,1076.9 1205.3,1083.4C1208.2,1089.9 1212.5,1095.8 1216.5,1100.1C1220.5,1104.4 1224.9,1107.5 1229.5,1109.5C1234.1,1111.5 1240.4,1112.0 1244.0,1112.2C1247.6,1112.4 1248.5,1110.8 1251.2,1110.8C1254.0,1110.8 1256.8,1112.4 1260.5,1112.2C1264.2,1112.0 1269.8,1111.8 1273.5,1109.5C1277.2,1107.2 1280.0,1103.3 1282.8,1098.3C1285.6,1093.3 1288.1,1087.5 1290.3,1079.7C1292.5,1071.9 1294.4,1061.0 1295.9,1051.7C1297.5,1042.4 1298.7,1032.2 1299.6,1023.8C1300.5,1015.4 1300.8,1007.9 1301.5,1001.4C1302.2,994.9 1303.2,989.1 1304.0,985.0C1304.8,980.9 1307.1,979.1 1306.0,977.0C1304.9,974.9 1300.6,974.7 1297.2,972.3C1293.8,969.9 1289.8,966.2 1285.7,962.4C1281.6,958.5 1277.4,953.6 1272.4,949.2C1267.4,944.8 1262.0,940.0 1255.9,935.9C1249.8,931.8 1242.9,927.6 1236.0,924.3C1229.1,921.0 1221.2,918.1 1214.5,916.1C1207.8,914.1 1200.5,912.9 1196.0,912.0C1191.5,911.1 1189.1,909.2 1187.2,910.5Z"/>
<path fill="#0000dc" d="M1188.5,911.5C1187.2,911.9 1191.0,917.0 1192.0,920.0C1193.0,923.0 1194.0,925.0 1194.6,929.3C1195.2,933.6 1195.4,940.8 1195.4,945.9C1195.4,951.0 1194.6,955.6 1194.8,960.0C1195.0,964.4 1195.7,968.8 1196.5,972.0C1197.3,975.2 1197.6,975.0 1199.7,979.0C1201.8,983.0 1206.5,990.0 1209.3,995.7C1212.1,1001.4 1214.2,1007.2 1216.3,1013.0C1218.3,1018.8 1219.6,1024.9 1221.6,1030.5C1223.6,1036.1 1225.7,1041.8 1228.5,1046.5C1231.3,1051.2 1235.2,1056.2 1238.2,1058.8C1241.2,1061.4 1245.1,1068.5 1246.5,1062.0C1247.9,1055.5 1246.6,1034.5 1246.6,1020.0C1246.6,1005.5 1246.6,987.8 1246.6,975.0C1246.6,962.2 1249.0,950.2 1246.6,943.5C1244.2,936.8 1237.3,937.8 1232.0,934.8C1226.7,931.8 1220.3,928.5 1215.0,925.6C1209.7,922.7 1204.4,919.9 1200.0,917.5C1195.6,915.1 1189.8,911.1 1188.5,911.5Z"/>
<path fill="#0048dc" d="M1221.1,945.9C1221.6,944.4 1226.4,941.4 1229.4,940.1C1232.4,938.9 1236.5,938.1 1239.3,938.4C1242.1,938.7 1245.3,939.6 1246.5,942.0C1247.7,944.4 1248.2,951.0 1246.5,952.5C1244.8,954.0 1239.4,951.3 1236.0,950.8C1232.6,950.2 1228.6,950.0 1226.1,949.2C1223.6,948.4 1220.5,947.4 1221.1,945.9Z"/>
<path fill="#0000dc" d="M1249.2,961.5C1250.8,959.2 1255.9,962.5 1258.9,965.0C1262.0,967.5 1265.5,972.6 1267.5,976.3C1269.5,980.0 1269.1,984.1 1271.0,987.2C1272.9,990.3 1275.8,992.9 1279.0,995.0C1282.2,997.1 1288.4,997.7 1290.5,1000.0C1292.6,1002.3 1292.0,1005.6 1291.8,1009.0C1291.5,1012.4 1290.4,1015.5 1289.0,1020.3C1287.6,1025.0 1285.8,1031.8 1283.5,1037.5C1281.2,1043.2 1278.2,1050.3 1275.5,1054.5C1272.8,1058.7 1270.0,1061.8 1267.5,1062.5C1265.0,1063.2 1262.4,1062.2 1260.5,1059.0C1258.6,1055.8 1257.5,1049.6 1256.3,1043.0C1255.1,1036.4 1254.2,1027.2 1253.2,1019.3C1252.2,1011.4 1251.3,1002.4 1250.6,995.7C1249.9,989.0 1249.4,984.7 1249.2,979.0C1249.0,973.3 1247.6,963.8 1249.2,961.5Z"/>
<path d="M1252,948 L1283,964 L1270,963 L1255,955 Z" fill="#00dcc8"/>
<path d="M1288,975 L1304,976 L1302,981 L1290,979 Z" fill="#00a0dc"/>
<path fill="#00dc00" d="M1162.3,914.4C1162.3,911.9 1162.8,907.8 1164.8,904.5C1166.9,901.2 1170.9,897.9 1174.8,894.6C1178.6,891.2 1183.6,886.8 1188.0,884.6C1192.4,882.4 1197.4,881.2 1201.2,881.3C1205.1,881.4 1209.5,883.5 1211.2,885.4C1212.8,887.4 1212.6,890.6 1211.2,892.9C1209.8,895.2 1205.9,897.6 1202.9,899.5C1199.9,901.4 1195.7,903.1 1193.0,904.5C1190.2,905.9 1188.3,906.1 1186.3,907.8C1184.4,909.4 1183.6,912.3 1181.4,914.4C1179.2,916.5 1175.9,919.4 1173.1,920.2C1170.3,921.0 1166.6,920.3 1164.8,919.4C1163.0,918.4 1162.3,916.9 1162.3,914.4Z"/>
<path fill="#00dc00" d="M1305.5,962.4C1306.1,959.9 1307.2,957.2 1308.8,955.8C1310.5,954.4 1313.4,953.3 1315.4,954.1C1317.5,955.0 1319.9,957.7 1321.2,960.8C1322.6,963.8 1322.8,968.5 1323.7,972.3C1324.7,976.2 1325.8,980.3 1327.0,983.9C1328.3,987.5 1330.9,991.1 1331.2,993.9C1331.4,996.6 1330.2,999.4 1328.7,1000.5C1327.2,1001.6 1324.3,1001.6 1322.1,1000.5C1319.9,999.4 1317.4,996.1 1315.4,993.9C1313.5,991.7 1311.9,989.7 1310.5,987.2C1309.1,984.8 1308.0,981.7 1307.2,979.0C1306.3,976.2 1305.8,973.4 1305.5,970.7C1305.2,967.9 1305.0,964.9 1305.5,962.4Z"/>
<g transform="translate(1181.6,902.6) rotate(-40)"><ellipse rx="10.5" ry="6.2" fill="#e8e000"/><ellipse rx="8.9" ry="4.8" fill="#ff9000"/><ellipse rx="7.3" ry="3.6" fill="#ff0000"/></g>
<g transform="translate(1315.3,980.6) rotate(75)"><ellipse rx="9.0" ry="5.2" fill="#e8e000"/><ellipse rx="7.4" ry="3.8" fill="#ff9000"/><ellipse rx="5.8" ry="2.6" fill="#ff0000"/></g>
</g><g clip-path="url(#c2)" filter="url(#bl4)">
<path d="M1187,910.2 L1306,975.8" stroke="#ffffff" stroke-width="2.0" fill="none"/>
<path d="M1247,946 L1247,980" stroke="#a0c8ff" stroke-width="2.0" fill="none"/>
<path d="M1247.1,978 L1247.1,1080" stroke="#ffffff" stroke-width="3.0" fill="none"/>
<path d="M1247.1,1078 L1247.1,1197" stroke="#ffffff" stroke-width="4.8" fill="none"/>
<path d="M1205.4,875.5 L1303,939" stroke="#ff0000" stroke-width="4" fill="none"/>
<path d="M1314,945.7 L1298.0,944.3 L1306.4,931.0 Z" fill="#ff0000"/>
<rect x="995.0" y="691.6" width="138.1" height="215.4" fill="#ffffff" stroke="#7a7a7a" stroke-width="1.3"/>
<rect x="1006.2" y="741.40" width="18" height="12.09" fill="#ff0000"/>
<rect x="1006.2" y="753.29" width="18" height="12.09" fill="#fc0000"/>
<rect x="1006.2" y="765.18" width="18" height="12.09" fill="#ff5d00"/>
<rect x="1006.2" y="777.08" width="18" height="12.09" fill="#ffb900"/>
<rect x="1006.2" y="788.97" width="18" height="12.09" fill="#e0ff00"/>
<rect x="1006.2" y="800.86" width="18" height="12.09" fill="#2eff00"/>
<rect x="1006.2" y="812.75" width="18" height="12.09" fill="#00ff00"/>
<rect x="1006.2" y="824.65" width="18" height="12.09" fill="#00f000"/>
<rect x="1006.2" y="836.54" width="18" height="12.09" fill="#00ff8b"/>
<rect x="1006.2" y="848.43" width="18" height="12.09" fill="#00ffe8"/>
<rect x="1006.2" y="860.32" width="18" height="12.09" fill="#00b9ff"/>
<rect x="1006.2" y="872.22" width="18" height="12.09" fill="#005dff"/>
<rect x="1006.2" y="884.11" width="18" height="12.09" fill="#0000ff"/>
<path d="M1006.2,741.40H1029.2M1006.2,753.29H1029.2M1006.2,765.18H1029.2M1006.2,777.08H1029.2M1006.2,788.97H1029.2M1006.2,800.86H1029.2M1006.2,812.75H1029.2M1006.2,824.65H1029.2M1006.2,836.54H1029.2M1006.2,848.43H1029.2M1006.2,860.32H1029.2M1006.2,872.22H1029.2M1006.2,884.11H1029.2M1006.2,896.00H1029.2" stroke="#222" stroke-width="0.8" fill="none"/>
<text class="ab" x="1006.0" y="714.4" font-size="12.6">S, Mises</text>
<text class="ab" x="1036.8" y="746.0" textLength="76" lengthAdjust="spacingAndGlyphs">+1.882e+07</text>
<text class="ab" x="1036.8" y="757.9" textLength="76" lengthAdjust="spacingAndGlyphs">+9.087e+06</text>
<text class="ab" x="1036.8" y="769.8" textLength="76" lengthAdjust="spacingAndGlyphs">+8.346e+06</text>
<text class="ab" x="1036.8" y="781.7" textLength="76" lengthAdjust="spacingAndGlyphs">+7.605e+06</text>
<text class="ab" x="1036.8" y="793.6" textLength="76" lengthAdjust="spacingAndGlyphs">+6.864e+06</text>
<text class="ab" x="1036.8" y="805.5" textLength="76" lengthAdjust="spacingAndGlyphs">+6.123e+06</text>
<text class="ab" x="1036.8" y="817.4" textLength="76" lengthAdjust="spacingAndGlyphs">+5.382e+06</text>
<text class="ab" x="1036.8" y="829.2" textLength="76" lengthAdjust="spacingAndGlyphs">+4.641e+06</text>
<text class="ab" x="1036.8" y="841.1" textLength="76" lengthAdjust="spacingAndGlyphs">+3.900e+06</text>
<text class="ab" x="1036.8" y="853.0" textLength="76" lengthAdjust="spacingAndGlyphs">+3.159e+06</text>
<text class="ab" x="1036.8" y="864.9" textLength="76" lengthAdjust="spacingAndGlyphs">+2.418e+06</text>
<text class="ab" x="1036.8" y="876.8" textLength="76" lengthAdjust="spacingAndGlyphs">+1.677e+06</text>
<text class="ab" x="1036.8" y="888.7" textLength="76" lengthAdjust="spacingAndGlyphs">+9.359e+05</text>
<text class="ab" x="1036.8" y="900.6" textLength="76" lengthAdjust="spacingAndGlyphs">+1.949e+05</text>
<text class="rl" x="1362.5" y="1165.3">60°</text>
</g>
<clipPath id="c3"><rect x="1532.1" y="692.7" width="507.3" height="505.2"/></clipPath>
<g clip-path="url(#c3)" filter="url(#bl3)">
<rect x="1527.1" y="687.7" width="517.3" height="515.2" fill="#00dcc8"/>
<path fill="#00dc6e" d="M1520.0,942.0C1524.5,925.8 1528.1,949.3 1532.1,953.0C1536.1,956.7 1539.4,959.5 1544.2,964.2C1549.0,968.9 1555.1,975.7 1561.0,981.0C1566.9,986.3 1573.4,991.9 1579.6,995.9C1585.8,999.9 1592.0,1002.7 1598.2,1005.2C1604.4,1007.7 1610.6,1009.2 1616.8,1010.8C1623.0,1012.3 1629.8,1013.0 1635.4,1014.5C1641.0,1016.0 1646.0,1017.3 1650.3,1020.1C1654.6,1022.9 1658.4,1026.5 1661.5,1031.2C1664.6,1035.9 1666.8,1041.5 1669.0,1048.0C1671.2,1054.5 1672.8,1062.8 1674.6,1070.3C1676.4,1077.8 1678.2,1084.9 1680.1,1092.7C1681.9,1100.5 1684.5,1108.8 1685.7,1116.9C1687.0,1125.0 1687.1,1133.3 1687.6,1141.1C1688.1,1148.9 1688.7,1156.7 1688.5,1163.5C1688.3,1170.3 1687.8,1176.4 1686.7,1182.1C1685.6,1187.8 1683.8,1192.4 1682.0,1197.9C1680.2,1203.4 1705.5,1212.2 1676.0,1215.0C1646.5,1217.8 1533.5,1242.5 1505.0,1215.0C1476.5,1187.5 1502.5,1095.5 1505.0,1050.0C1507.5,1004.5 1515.5,958.2 1520.0,942.0Z"/>
<path fill="#00dc00" d="M1520.0,976.0C1524.5,964.8 1527.4,980.1 1532.1,982.8C1536.8,985.5 1542.2,987.8 1547.9,992.1C1553.7,996.5 1560.4,1003.3 1566.6,1008.9C1572.8,1014.5 1579.0,1020.4 1585.2,1025.7C1591.4,1031.0 1597.9,1035.6 1603.8,1040.6C1609.7,1045.5 1615.6,1050.1 1620.6,1055.4C1625.6,1060.7 1629.9,1066.0 1633.6,1072.2C1637.3,1078.4 1640.4,1085.2 1642.9,1092.7C1645.4,1100.2 1647.3,1108.8 1648.5,1116.9C1649.7,1125.0 1650.3,1133.3 1650.3,1141.1C1650.3,1148.9 1649.7,1156.7 1648.5,1163.5C1647.3,1170.3 1645.4,1176.4 1642.9,1182.1C1640.4,1187.8 1636.8,1192.4 1633.6,1197.9C1630.4,1203.4 1645.4,1212.2 1624.0,1215.0C1602.6,1217.8 1524.8,1242.5 1505.0,1215.0C1485.2,1187.5 1502.5,1089.8 1505.0,1050.0C1507.5,1010.2 1515.5,987.2 1520.0,976.0Z"/>
<path fill="#00dc6e" d="M2052.0,940.0C2047.7,924.1 2043.5,950.2 2039.4,954.9C2035.4,959.5 2032.1,963.5 2027.7,967.9C2023.3,972.2 2018.4,976.6 2012.8,981.0C2007.2,985.4 2000.3,990.3 1994.1,994.0C1987.9,997.7 1981.7,1000.8 1975.5,1003.3C1969.3,1005.8 1963.1,1007.0 1956.9,1008.9C1950.7,1010.8 1943.9,1012.3 1938.3,1014.5C1932.7,1016.7 1927.4,1018.8 1923.4,1021.9C1919.4,1025.0 1916.6,1028.8 1914.1,1033.1C1911.6,1037.4 1910.0,1042.4 1908.5,1048.0C1907.0,1053.6 1906.0,1060.4 1904.8,1066.6C1903.5,1072.8 1902.6,1078.4 1901.0,1085.2C1899.4,1092.0 1897.2,1100.1 1895.4,1107.6C1893.6,1115.0 1891.5,1122.5 1889.9,1129.9C1888.4,1137.4 1886.9,1145.2 1886.1,1152.3C1885.3,1159.4 1884.9,1166.9 1885.2,1172.8C1885.5,1178.7 1886.9,1183.5 1888.0,1187.7C1889.1,1191.9 1890.2,1193.4 1891.7,1197.9C1893.2,1202.5 1868.1,1212.2 1897.0,1215.0C1925.9,1217.8 2037.0,1242.5 2065.0,1215.0C2093.0,1187.5 2067.2,1095.8 2065.0,1050.0C2062.8,1004.2 2056.3,955.9 2052.0,940.0Z"/>
<path fill="#00dc00" d="M2052.0,975.0C2047.7,964.1 2043.8,981.2 2039.4,984.7C2035.0,988.2 2030.9,991.9 2025.8,995.9C2020.7,999.9 2014.9,1004.2 2009.0,1008.9C2003.1,1013.5 1996.6,1018.8 1990.4,1023.8C1984.2,1028.8 1977.4,1034.0 1971.8,1038.7C1966.2,1043.4 1961.6,1047.1 1956.9,1051.7C1952.2,1056.3 1947.6,1061.3 1943.9,1066.6C1940.2,1071.9 1937.1,1077.5 1934.6,1083.4C1932.1,1089.3 1930.4,1095.5 1929.0,1102.0C1927.6,1108.5 1926.8,1115.7 1926.2,1122.5C1925.6,1129.3 1925.2,1136.2 1925.2,1143.0C1925.2,1149.8 1925.3,1157.3 1926.2,1163.5C1927.1,1169.7 1928.8,1174.5 1930.8,1180.2C1932.8,1185.9 1935.6,1192.1 1938.3,1197.9C1941.0,1203.7 1925.9,1212.2 1947.0,1215.0C1968.1,1217.8 2045.3,1242.5 2065.0,1215.0C2084.7,1187.5 2067.2,1090.0 2065.0,1050.0C2062.8,1010.0 2056.3,985.9 2052.0,975.0Z"/>
<path fill="#00dc6e" d="M1688.0,684.0C1672.5,688.6 1692.3,690.0 1696.9,692.7C1701.5,695.5 1707.8,697.6 1715.5,700.5C1723.2,703.4 1734.1,707.3 1743.4,709.8C1752.7,712.3 1763.6,714.3 1771.4,715.4C1779.2,716.5 1785.5,716.7 1790.0,716.6C1794.5,716.5 1794.1,715.6 1798.6,714.8C1803.1,714.0 1811.0,713.0 1817.2,711.7C1823.4,710.4 1829.7,708.9 1835.9,707.0C1842.1,705.1 1848.9,702.4 1854.5,700.5C1860.1,698.6 1865.4,697.1 1869.4,695.8C1873.4,694.5 1875.3,694.7 1878.7,692.7C1882.1,690.7 1904.8,688.6 1890.0,684.0C1875.2,679.4 1823.7,665.0 1790.0,665.0C1756.3,665.0 1703.5,679.4 1688.0,684.0Z"/>
<ellipse cx="1787.3" cy="1198.5" rx="12" ry="8" fill="#00dc6e"/>
<path fill="#00a0dc" d="M1640.0,700.0C1667.0,687.0 1663.9,716.9 1671.8,721.9C1679.7,726.9 1681.9,726.7 1687.6,730.3C1693.3,733.9 1700.0,738.6 1706.2,743.3C1712.4,747.9 1718.6,752.9 1724.8,758.2C1731.0,763.5 1738.1,770.0 1743.4,775.0C1748.7,780.0 1753.7,783.7 1756.5,788.0C1759.3,792.3 1760.2,796.4 1760.2,801.0C1760.2,805.6 1758.4,810.3 1756.5,815.9C1754.6,821.5 1751.8,827.8 1749.0,834.6C1746.2,841.4 1742.8,849.1 1739.7,856.9C1736.6,864.6 1733.5,873.4 1730.4,881.1C1727.3,888.9 1724.5,896.6 1721.1,903.4C1717.7,910.2 1713.3,916.8 1709.9,922.1C1706.5,927.4 1703.4,932.0 1700.6,935.1C1697.8,938.2 1695.7,939.1 1693.2,941.0C1690.7,942.9 1688.5,944.3 1685.7,946.6C1682.9,948.9 1679.8,952.0 1676.4,954.9C1673.0,957.8 1669.6,961.4 1665.2,964.2C1660.8,967.0 1655.6,969.8 1650.3,971.7C1645.0,973.6 1639.2,975.0 1633.6,975.4C1628.0,975.8 1622.4,975.3 1616.8,974.4C1611.2,973.5 1605.7,972.1 1600.1,969.8C1594.5,967.5 1588.6,963.9 1583.3,960.5C1578.0,957.1 1572.8,953.0 1568.4,949.3C1564.1,945.5 1561.2,942.5 1557.2,938.0C1553.2,933.5 1548.3,926.0 1544.2,922.1C1540.1,918.2 1537.6,917.5 1532.7,914.6C1527.8,911.8 1518.8,924.1 1515.0,905.0C1511.2,885.9 1489.2,834.2 1510.0,800.0C1530.8,765.8 1613.0,713.0 1640.0,700.0Z"/>
<path fill="#00a0dc" d="M1960.0,680.0C1942.9,683.8 1952.8,688.7 1947.6,692.7C1942.4,696.7 1936.8,699.5 1929.0,704.2C1921.2,708.9 1910.3,715.4 1901.0,721.0C1891.7,726.6 1881.5,732.4 1873.1,737.7C1864.7,743.0 1857.6,747.6 1850.8,752.6C1844.0,757.6 1837.4,762.5 1832.1,767.5C1826.8,772.5 1822.2,777.4 1819.1,782.4C1816.0,787.4 1814.1,792.3 1813.5,797.3C1812.9,802.3 1813.9,806.9 1815.4,812.2C1817.0,817.5 1820.0,823.1 1822.8,829.0C1825.6,834.9 1828.7,841.4 1832.1,847.6C1835.5,853.8 1839.6,860.0 1843.3,866.2C1847.0,872.4 1851.1,879.2 1854.5,884.8C1857.9,890.4 1861.3,895.0 1863.8,899.7C1866.3,904.4 1867.5,908.4 1869.4,912.8C1871.3,917.1 1873.3,922.0 1875.0,925.8C1876.7,929.6 1877.8,932.8 1879.5,935.5C1881.2,938.2 1882.8,939.4 1885.5,942.0C1888.2,944.6 1891.3,947.5 1895.4,951.2C1899.5,954.9 1904.7,960.5 1910.3,964.2C1915.9,967.9 1922.8,971.5 1929.0,973.5C1935.2,975.5 1941.4,976.3 1947.6,976.3C1953.8,976.3 1960.0,975.2 1966.2,973.5C1972.4,971.8 1978.6,969.2 1984.8,966.1C1991.0,963.0 1998.5,958.4 2003.4,954.9C2008.3,951.4 2010.0,948.9 2014.0,945.0C2018.0,941.1 2023.5,936.1 2027.7,931.4C2031.9,926.6 2034.9,921.7 2039.4,916.5C2044.0,911.3 2050.7,922.8 2055.0,900.0C2059.3,877.2 2065.8,818.3 2065.0,780.0C2064.2,741.7 2067.5,686.7 2050.0,670.0C2032.5,653.3 1977.1,676.2 1960.0,680.0Z"/>
<path fill="#00a0dc" d="M1714.5,947.5C1712.4,948.7 1713.2,947.1 1711.8,950.5C1710.4,953.9 1708.1,961.9 1706.2,967.9C1704.3,973.9 1702.0,980.3 1700.6,986.5C1699.2,992.7 1698.3,999.0 1697.8,1005.2C1697.3,1011.4 1697.5,1017.6 1697.8,1023.8C1698.1,1030.0 1698.9,1036.2 1699.7,1042.4C1700.5,1048.6 1701.4,1054.8 1702.5,1061.0C1703.6,1067.2 1705.0,1073.5 1706.2,1079.7C1707.4,1085.9 1708.4,1092.1 1709.9,1098.3C1711.5,1104.5 1713.3,1110.7 1715.5,1116.9C1717.7,1123.1 1720.2,1129.9 1723.0,1135.5C1725.8,1141.1 1728.9,1146.1 1732.3,1150.4C1735.7,1154.8 1739.4,1158.5 1743.4,1161.6C1747.4,1164.7 1752.2,1167.6 1756.5,1169.0C1760.8,1170.4 1764.8,1170.5 1769.5,1170.0C1774.2,1169.5 1780.8,1166.4 1784.4,1165.8C1788.0,1165.2 1787.6,1165.5 1791.2,1166.2C1794.8,1166.9 1801.1,1169.7 1806.1,1170.0C1811.1,1170.3 1816.3,1169.5 1821.0,1168.1C1825.7,1166.7 1830.0,1164.5 1834.0,1161.6C1838.0,1158.6 1841.8,1154.8 1845.2,1150.4C1848.6,1146.1 1851.7,1141.1 1854.5,1135.5C1857.3,1129.9 1859.7,1123.1 1861.9,1116.9C1864.1,1110.7 1866.2,1104.5 1867.5,1098.3C1868.8,1092.1 1868.8,1085.9 1869.4,1079.7C1870.0,1073.5 1870.4,1067.2 1871.2,1061.0C1872.0,1054.8 1873.2,1048.6 1874.0,1042.4C1874.8,1036.2 1875.6,1030.0 1875.9,1023.8C1876.2,1017.6 1876.4,1011.4 1875.9,1005.2C1875.4,999.0 1874.5,992.7 1873.1,986.5C1871.7,980.3 1869.7,973.8 1867.5,967.9C1865.3,962.0 1861.6,954.7 1860.1,951.2C1858.6,947.7 1860.1,948.2 1858.5,947.0C1856.9,945.8 1854.2,946.1 1850.4,944.2C1846.6,942.4 1840.7,938.6 1835.5,935.9C1830.3,933.1 1824.5,929.8 1819.0,927.7C1813.5,925.6 1807.9,924.3 1802.4,923.5C1796.9,922.7 1791.4,922.7 1785.9,922.7C1780.4,922.7 1774.8,922.7 1769.3,923.5C1763.8,924.3 1758.3,925.6 1752.8,927.7C1747.3,929.8 1740.9,933.3 1736.2,935.9C1731.5,938.5 1728.2,941.6 1724.6,943.5C1721.0,945.4 1716.6,946.3 1714.5,947.5Z"/>
<path fill="#0048dc" d="M1650.0,770.0C1670.3,769.1 1666.8,788.4 1671.8,794.5C1676.8,800.6 1677.5,801.5 1680.1,806.6C1682.7,811.7 1685.7,818.4 1687.6,825.2C1689.5,832.0 1690.8,839.2 1691.6,847.6C1692.4,856.0 1692.6,866.2 1692.5,875.5C1692.4,884.8 1692.0,895.6 1691.2,903.4C1690.4,911.2 1689.1,917.4 1687.6,922.1C1686.1,926.8 1685.1,928.3 1682.0,931.4C1678.9,934.5 1674.3,938.2 1669.0,940.7C1663.7,943.2 1656.5,945.1 1650.3,946.3C1644.1,947.5 1637.9,948.4 1631.7,948.1C1625.5,947.8 1619.3,946.6 1613.1,944.4C1606.9,942.2 1600.1,938.8 1594.5,935.1C1588.9,931.4 1583.6,926.1 1579.6,922.1C1575.6,918.1 1574.4,916.2 1570.3,910.9C1566.2,905.5 1558.4,908.5 1555.0,890.0C1551.6,871.5 1534.2,820.0 1550.0,800.0C1565.8,780.0 1629.7,770.9 1650.0,770.0Z"/>
<path fill="#0048dc" d="M2052.0,703.0C2047.7,692.5 2044.4,705.2 2039.4,707.0C2034.4,708.8 2028.1,710.9 2022.1,713.5C2016.1,716.1 2009.6,719.4 2003.4,722.8C1997.2,726.2 1991.0,730.3 1984.8,734.0C1978.6,737.7 1972.4,741.5 1966.2,745.2C1960.0,748.9 1953.8,752.3 1947.6,756.3C1941.4,760.3 1935.2,764.4 1929.0,769.4C1922.8,774.4 1915.9,780.2 1910.3,786.1C1904.7,792.0 1899.4,798.3 1895.4,804.8C1891.4,811.3 1888.4,818.1 1886.1,825.2C1883.8,832.3 1882.4,840.2 1881.5,847.6C1880.6,855.0 1880.4,862.1 1880.6,869.9C1880.8,877.6 1881.6,886.3 1882.4,894.1C1883.2,901.9 1884.3,910.6 1885.2,916.5C1886.1,922.4 1886.3,926.4 1888.0,929.5C1889.7,932.6 1891.7,933.2 1895.4,935.1C1899.1,937.0 1904.7,938.8 1910.3,940.7C1915.9,942.6 1922.8,945.2 1929.0,946.3C1935.2,947.4 1941.4,948.1 1947.6,947.2C1953.8,946.3 1960.0,943.7 1966.2,940.7C1972.4,937.8 1978.6,934.1 1984.8,929.5C1991.0,924.9 1998.4,918.1 2003.4,912.8C2008.4,907.5 2011.5,903.2 2014.6,897.9C2017.7,892.6 2019.3,886.7 2022.1,881.1C2024.9,875.5 2028.5,869.3 2031.4,864.3C2034.3,859.3 2036.0,856.2 2039.4,851.3C2042.8,846.4 2047.7,848.5 2052.0,835.0C2056.3,821.5 2065.0,792.0 2065.0,770.0C2065.0,748.0 2056.3,713.5 2052.0,703.0Z"/>
<path fill="#0000dc" d="M1927.1,894.1C1926.8,890.8 1927.1,885.8 1929.0,881.1C1930.9,876.5 1934.6,870.1 1938.3,866.2C1942.0,862.3 1947.1,859.2 1951.3,857.8C1955.5,856.4 1960.8,856.1 1963.4,857.8C1966.0,859.5 1967.2,864.2 1967.1,868.1C1966.9,872.0 1964.8,877.1 1962.5,881.1C1960.2,885.1 1956.6,889.2 1953.2,892.3C1949.8,895.4 1945.7,898.3 1942.0,899.7C1938.3,901.1 1933.3,901.6 1930.8,900.7C1928.3,899.8 1927.4,897.4 1927.1,894.1Z"/>
<path fill="#0048dc" d="M1716.0,948.0C1715.3,949.2 1715.4,948.1 1715.5,953.0C1715.6,957.9 1715.9,968.5 1716.4,977.2C1716.9,985.9 1717.4,995.9 1718.3,1005.2C1719.2,1014.5 1720.6,1023.8 1722.0,1033.1C1723.4,1042.4 1725.0,1052.3 1726.7,1061.0C1728.4,1069.7 1730.1,1077.8 1732.3,1085.2C1734.5,1092.7 1736.6,1099.8 1739.7,1105.7C1742.8,1111.6 1746.9,1116.6 1750.9,1120.6C1754.9,1124.6 1759.6,1127.7 1763.9,1129.9C1768.2,1132.1 1773.6,1133.1 1777.0,1133.7C1780.4,1134.3 1782.0,1133.6 1784.4,1133.7C1786.8,1133.8 1788.8,1134.4 1791.2,1134.6C1793.6,1134.8 1795.2,1135.2 1798.6,1134.6C1802.0,1134.0 1807.3,1133.2 1811.7,1130.9C1816.1,1128.6 1821.0,1124.8 1824.7,1120.6C1828.4,1116.4 1831.2,1111.6 1834.0,1105.7C1836.8,1099.8 1839.2,1092.7 1841.4,1085.2C1843.6,1077.8 1845.3,1069.7 1847.0,1061.0C1848.7,1052.3 1850.3,1042.4 1851.7,1033.1C1853.1,1023.8 1854.5,1014.5 1855.4,1005.2C1856.3,995.9 1856.8,985.9 1857.3,977.2C1857.8,968.5 1858.2,957.9 1858.2,953.0C1858.2,948.1 1858.2,949.2 1857.5,948.0C1856.8,946.8 1857.4,946.8 1853.7,945.9C1850.0,945.0 1841.3,943.6 1835.5,942.5C1829.7,941.4 1824.5,940.0 1819.0,939.2C1813.5,938.4 1807.9,938.0 1802.4,937.6C1796.9,937.2 1791.4,936.8 1785.9,936.8C1780.4,936.8 1774.8,937.2 1769.3,937.6C1763.8,938.0 1758.3,938.4 1752.8,939.2C1747.3,940.0 1741.7,941.4 1736.2,942.5C1730.7,943.6 1723.1,945.0 1719.7,945.9C1716.3,946.8 1716.7,946.8 1716.0,948.0Z"/>
<path fill="#0000dc" d="M1724.0,948.3C1719.0,949.1 1724.5,949.7 1724.8,953.0C1725.1,956.3 1725.2,962.3 1725.8,967.9C1726.4,973.5 1727.2,980.3 1728.6,986.5C1730.0,992.7 1731.9,999.0 1734.1,1005.2C1736.3,1011.4 1739.1,1017.6 1741.6,1023.8C1744.1,1030.0 1746.5,1036.5 1749.0,1042.4C1751.5,1048.3 1753.7,1054.6 1756.5,1059.2C1759.3,1063.8 1762.4,1067.7 1765.8,1070.3C1769.2,1072.9 1773.4,1074.3 1777.0,1075.0C1780.6,1075.7 1783.6,1074.6 1787.2,1074.6C1790.8,1074.6 1795.1,1075.7 1798.6,1075.0C1802.0,1074.3 1804.8,1072.9 1807.9,1070.3C1811.0,1067.7 1814.4,1063.8 1817.2,1059.2C1820.0,1054.6 1822.2,1048.3 1824.7,1042.4C1827.2,1036.5 1829.6,1030.0 1832.1,1023.8C1834.6,1017.6 1837.4,1011.4 1839.6,1005.2C1841.8,999.0 1843.7,992.7 1845.2,986.5C1846.8,980.3 1848.0,973.5 1848.9,967.9C1849.8,962.3 1850.4,956.3 1850.8,953.0C1851.2,949.7 1856.3,949.1 1851.2,948.3C1846.1,947.5 1830.7,948.0 1820.0,948.0C1809.3,948.0 1797.8,948.0 1787.0,948.0C1776.2,948.0 1765.5,948.0 1755.0,948.0C1744.5,948.0 1729.0,947.5 1724.0,948.3Z"/>
<path fill="#0048dc" d="M1767.7,949.5C1770.5,948.4 1780.7,948.6 1787.0,948.6C1793.3,948.6 1803.0,948.4 1805.7,949.5C1808.5,950.6 1805.3,954.1 1803.5,955.5C1801.7,956.9 1797.8,957.6 1795.0,958.0C1792.2,958.4 1789.8,958.0 1787.0,958.0C1784.2,958.0 1780.8,958.4 1778.0,958.0C1775.2,957.6 1771.7,956.9 1770.0,955.5C1768.3,954.1 1764.9,950.6 1767.7,949.5Z"/>
<path fill="#00dc6e" d="M1685.7,965.7C1685.7,962.4 1687.8,957.4 1689.9,952.5C1691.9,947.5 1695.1,940.9 1698.1,935.9C1701.2,931.0 1704.5,926.3 1708.1,922.7C1711.7,919.1 1715.8,916.3 1719.7,914.4C1723.5,912.5 1727.9,911.2 1731.2,911.1C1734.6,911.0 1737.9,911.9 1739.5,913.6C1741.2,915.2 1741.7,918.4 1741.2,921.0C1740.6,923.7 1738.4,926.6 1736.2,929.3C1734.0,932.1 1730.7,934.8 1727.9,937.6C1725.2,940.3 1721.9,942.8 1719.7,945.9C1717.4,948.9 1716.6,952.2 1714.7,955.8C1712.8,959.4 1710.6,964.5 1708.1,967.4C1705.6,970.3 1702.8,972.3 1699.8,973.2C1696.8,974.0 1692.2,973.6 1689.9,972.3C1687.5,971.1 1685.7,969.0 1685.7,965.7Z"/>
<path fill="#00dc00" d="M1694.8,959.1C1695.0,956.3 1696.5,950.0 1698.1,945.9C1699.8,941.7 1702.3,937.3 1704.8,934.3C1707.2,931.2 1710.3,928.8 1713.0,927.7C1715.8,926.6 1719.4,926.6 1721.3,927.7C1723.2,928.8 1724.6,931.5 1724.6,934.3C1724.6,937.0 1723.0,941.4 1721.3,944.2C1719.7,947.0 1716.6,948.6 1714.7,950.8C1712.8,953.0 1711.7,955.5 1709.7,957.4C1707.8,959.4 1705.2,961.6 1703.1,962.4C1701.0,963.2 1698.7,963.0 1697.3,962.4C1695.9,961.9 1694.7,961.9 1694.8,959.1Z"/>
<path fill="#00dc6e" d="M1833.9,916.1C1834.1,914.0 1836.1,912.5 1838.8,911.9C1841.6,911.4 1846.8,911.5 1850.4,912.8C1854.0,914.0 1857.0,916.3 1860.3,919.4C1863.7,922.4 1867.2,926.8 1870.3,931.0C1873.3,935.1 1876.1,939.8 1878.6,944.2C1881.0,948.6 1883.5,953.6 1885.2,957.4C1886.8,961.3 1888.8,964.9 1888.5,967.4C1888.2,969.9 1885.7,972.1 1883.5,972.3C1881.3,972.6 1877.7,971.0 1875.2,969.0C1872.8,967.1 1870.8,963.5 1868.6,960.8C1866.4,958.0 1864.2,955.5 1862.0,952.5C1859.8,949.4 1858.1,945.9 1855.4,942.6C1852.6,939.2 1848.5,935.7 1845.4,932.6C1842.4,929.6 1839.1,927.1 1837.2,924.3C1835.2,921.6 1833.6,918.1 1833.9,916.1Z"/>
<path fill="#00dc00" d="M1850.4,932.6C1850.7,930.7 1851.8,928.5 1853.7,927.7C1855.7,926.8 1859.5,926.6 1862.0,927.7C1864.5,928.8 1866.4,931.2 1868.6,934.3C1870.8,937.3 1873.6,942.3 1875.2,945.9C1876.9,949.4 1878.3,953.0 1878.6,955.8C1878.8,958.6 1878.3,961.6 1876.9,962.4C1875.5,963.2 1872.5,962.1 1870.3,960.8C1868.1,959.4 1865.9,956.6 1863.7,954.1C1861.4,951.7 1859.0,948.3 1857.0,945.9C1855.1,943.4 1853.2,941.4 1852.1,939.2C1851.0,937.0 1850.1,934.6 1850.4,932.6Z"/>
<g transform="translate(1709.0,946.3) rotate(-58)"><ellipse rx="8.6" ry="4.6" fill="#e8e000"/><ellipse rx="7.1" ry="3.4" fill="#ff9000"/><ellipse rx="5.6" ry="2.2" fill="#ff0000"/></g>
<g transform="translate(1864.6,946.3) rotate(58)"><ellipse rx="8.6" ry="4.6" fill="#e8e000"/><ellipse rx="7.1" ry="3.4" fill="#ff9000"/><ellipse rx="5.6" ry="2.2" fill="#ff0000"/></g>
</g><g clip-path="url(#c3)" filter="url(#bl4)">
<path d="M1716.5,946.8 L1857.5,946.8" stroke="#ffffff" stroke-width="2.2" fill="none"/>
<path d="M1776,948 L1799,948" stroke="#e8f0ff" stroke-width="3.4" fill="none"/>
<path d="M1787.2,942 L1787.2,950" stroke="#556" stroke-width="1.2" fill="none"/>
<path d="M1787.2,956 L1787.2,1010" stroke="#d0d8ff" stroke-width="2.0" fill="none"/>
<path d="M1787.2,1008 L1787.2,1096" stroke="#ffffff" stroke-width="3.0" fill="none"/>
<path d="M1787.2,1094 L1787.2,1199" stroke="#ffffff" stroke-width="4.8" fill="none"/>
<path d="M1729.3,910.7 L1852,910.7" stroke="#ff0000" stroke-width="4.8" fill="none"/>
<path d="M1865.5,910.7 L1850.3,902.6 L1850.3,918.8 Z" fill="#ff0000"/>
<rect x="1531.5" y="690.0" width="139.9" height="220.0" fill="#ffffff"/>
<rect x="1544.3" y="743.30" width="18" height="12.09" fill="#ff0000"/>
<rect x="1544.3" y="755.19" width="18" height="12.09" fill="#fc0000"/>
<rect x="1544.3" y="767.08" width="18" height="12.09" fill="#ff5d00"/>
<rect x="1544.3" y="778.98" width="18" height="12.09" fill="#ffb900"/>
<rect x="1544.3" y="790.87" width="18" height="12.09" fill="#e0ff00"/>
<rect x="1544.3" y="802.76" width="18" height="12.09" fill="#2eff00"/>
<rect x="1544.3" y="814.65" width="18" height="12.09" fill="#00ff00"/>
<rect x="1544.3" y="826.55" width="18" height="12.09" fill="#00f000"/>
<rect x="1544.3" y="838.44" width="18" height="12.09" fill="#00ff8b"/>
<rect x="1544.3" y="850.33" width="18" height="12.09" fill="#00ffe8"/>
<rect x="1544.3" y="862.22" width="18" height="12.09" fill="#00b9ff"/>
<rect x="1544.3" y="874.12" width="18" height="12.09" fill="#005dff"/>
<rect x="1544.3" y="886.01" width="18" height="12.09" fill="#0000ff"/>
<path d="M1544.3,743.30H1567.3M1544.3,755.19H1567.3M1544.3,767.08H1567.3M1544.3,778.98H1567.3M1544.3,790.87H1567.3M1544.3,802.76H1567.3M1544.3,814.65H1567.3M1544.3,826.55H1567.3M1544.3,838.44H1567.3M1544.3,850.33H1567.3M1544.3,862.22H1567.3M1544.3,874.12H1567.3M1544.3,886.01H1567.3M1544.3,897.90H1567.3" stroke="#222" stroke-width="0.8" fill="none"/>
<text class="ab" x="1544.2" y="715.4" font-size="12.6">S, Mises</text>
<text class="ab" x="1575.0" y="747.9" textLength="76" lengthAdjust="spacingAndGlyphs">+1.620e+07</text>
<text class="ab" x="1575.0" y="759.8" textLength="76" lengthAdjust="spacingAndGlyphs">+1.017e+07</text>
<text class="ab" x="1575.0" y="771.7" textLength="76" lengthAdjust="spacingAndGlyphs">+9.331e+06</text>
<text class="ab" x="1575.0" y="783.6" textLength="76" lengthAdjust="spacingAndGlyphs">+8.492e+06</text>
<text class="ab" x="1575.0" y="795.5" textLength="76" lengthAdjust="spacingAndGlyphs">+7.652e+06</text>
<text class="ab" x="1575.0" y="807.4" textLength="76" lengthAdjust="spacingAndGlyphs">+6.813e+06</text>
<text class="ab" x="1575.0" y="819.3" textLength="76" lengthAdjust="spacingAndGlyphs">+5.973e+06</text>
<text class="ab" x="1575.0" y="831.1" textLength="76" lengthAdjust="spacingAndGlyphs">+5.133e+06</text>
<text class="ab" x="1575.0" y="843.0" textLength="76" lengthAdjust="spacingAndGlyphs">+4.294e+06</text>
<text class="ab" x="1575.0" y="854.9" textLength="76" lengthAdjust="spacingAndGlyphs">+3.454e+06</text>
<text class="ab" x="1575.0" y="866.8" textLength="76" lengthAdjust="spacingAndGlyphs">+2.614e+06</text>
<text class="ab" x="1575.0" y="878.7" textLength="76" lengthAdjust="spacingAndGlyphs">+1.775e+06</text>
<text class="ab" x="1575.0" y="890.6" textLength="76" lengthAdjust="spacingAndGlyphs">+9.353e+05</text>
<text class="ab" x="1575.0" y="902.5" textLength="76" lengthAdjust="spacingAndGlyphs">+9.566e+04</text>
<path d="M1532.9,692 V910.4" stroke="#666" stroke-width="1.3" fill="none"/>
<path d="M1532.9,910.2 H1671.6 V692" stroke="#b0a8a0" stroke-width="1.0" fill="none"/>
<text class="rl" x="1899" y="1165.3">90°</text>
</g>
</g>
<g id="legend">
<line x1="2056.5" y1="198.0" x2="2183.5" y2="198.0" stroke="#0070c0" stroke-width="12" stroke-linecap="round" filter="url(#blL)"/>
<text class="lg" x="2193.9 2234.9" y="220.9" filter="url(#blT)">30<tspan x="2271.6" dy="-18.4" font-size="59">o</tspan></text>
<line x1="2056.5" y1="319.3" x2="2183.5" y2="319.3" stroke="#e00000" stroke-width="12" stroke-linecap="round" filter="url(#blL)"/>
<text class="lg" x="2193.9 2234.9" y="342.2" filter="url(#blT)">60<tspan x="2271.6" dy="-18.4" font-size="59">o</tspan></text>
<line x1="2056.5" y1="441.2" x2="2183.5" y2="441.2" stroke="#00b050" stroke-width="12" stroke-linecap="round" filter="url(#blL)"/>
<text class="lg" x="2193.9 2234.9" y="464.1" filter="url(#blT)">90<tspan x="2271.6" dy="-18.4" font-size="59">o</tspan></text>
</g>
<g id="ticks" filter="url(#blT)">
<text class="tk" text-anchor="middle" x="286.6" y="1316">0</text>
<text class="tk" text-anchor="middle" x="635.0" y="1316">1</text>
<text class="tk" text-anchor="middle" x="980.4" y="1316">2</text>
<text class="tk" text-anchor="middle" x="1327.8" y="1316">3</text>
<text class="tk" text-anchor="middle" x="1675.1" y="1316">4</text>
<text class="tk" text-anchor="middle" x="2021.7" y="1316">5</text>
<text class="tk" text-anchor="middle" x="2368.7" y="1316">6</text>
<text class="tk" text-anchor="middle" x="205.3" y="81.6">6</text>
<text class="tk" text-anchor="middle" x="205.3" y="463.2">4</text>
<text class="tk" text-anchor="middle" x="205.3" y="847.9">2</text>
<text class="tk" text-anchor="middle" x="205.3" y="1228.6">0</text>
</g>
<g id="titles" filter="url(#blT)">
<text class="ti" x="945" y="1414.5">Fracture position<tspan class="pa" x="1536.4" dy="-7.9">(</tspan><tspan x="1561.4" dy="7.9">m</tspan><tspan class="pa" x="1628" dy="-7.9">)</tspan></text>
<text class="ti" transform="translate(101.2,1034.5) rotate(-90)" x="0" y="0">Fracture width<tspan class="pa" x="521.8" dy="-8.4">(</tspan><tspan x="550.2" dy="8.4">mm</tspan><tspan class="pa" x="677" dy="-8.4">)</tspan></text>
</g>
</svg></body></html>
